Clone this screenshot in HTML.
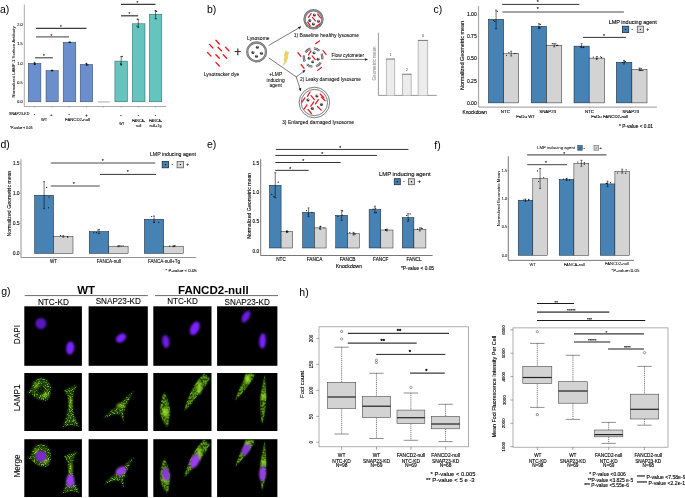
<!DOCTYPE html>
<html lang="en"><head><meta charset="utf-8"><title>Figure</title>
<style>
html,body{margin:0;padding:0;background:#fff;}
body{width:685px;height:498px;overflow:hidden;}
svg{display:block;font-family:"Liberation Sans",sans-serif;}
</style></head><body>
<svg width="685" height="498" viewBox="0 0 685 498">
<defs>
<filter id="b1" x="-30%" y="-30%" width="160%" height="160%"><feGaussianBlur stdDeviation="0.9"/></filter>
<filter id="b2" x="-30%" y="-30%" width="160%" height="160%"><feGaussianBlur stdDeviation="1.3"/></filter>
<filter id="sp" x="-20%" y="-20%" width="140%" height="140%">
<feGaussianBlur in="SourceGraphic" stdDeviation="0.7" result="g"/>
<feTurbulence type="fractalNoise" baseFrequency="0.8" numOctaves="2" seed="7" result="n"/>
<feColorMatrix in="n" type="matrix" values="0 0 0 0 1  0 0 0 0 1  0 0 0 0 1  5.5 0 0 0 -2.75" result="m"/>
<feComposite in="g" in2="m" operator="in"/>
</filter>
<filter id="sm" x="-20%" y="-20%" width="140%" height="140%">
<feGaussianBlur in="SourceGraphic" stdDeviation="0.6" result="g"/>
<feTurbulence type="fractalNoise" baseFrequency="0.5" numOctaves="2" seed="11" result="n"/>
<feColorMatrix in="n" type="matrix" values="0 0 0 0 1  0 0 0 0 1  0 0 0 0 1  3.0 0 0 0 -0.95" result="m"/>
<feComposite in="g" in2="m" operator="in"/>
</filter>
<marker id="ah" markerWidth="6" markerHeight="6" refX="4.5" refY="3" orient="auto"><path d="M0,0.8 L5,3 L0,5.2 Z" fill="#222"/></marker>
</defs>
<rect width="685" height="498" fill="#fff"/>

<text x="0.00" y="12.60" font-size="10.5">a)</text>
<text x="207.00" y="12.60" font-size="10.5">b)</text>
<text x="433.50" y="12.60" font-size="10.5">c)</text>
<text x="0.50" y="147.80" font-size="10.5">d)</text>
<text x="207.00" y="148.20" font-size="10.5">e)</text>
<text x="434.30" y="148.60" font-size="10.5">f)</text>
<text x="1.20" y="295.30" font-size="10.5">g)</text>
<text x="299.30" y="295.60" font-size="10.5">h)</text>
<g id="pa">
<line x1="24.30" y1="4.50" x2="24.30" y2="106.50" stroke="#555" stroke-width="0.5" />
<line x1="24.30" y1="106.50" x2="166.00" y2="106.50" stroke="#555" stroke-width="0.5" />
<text x="22.60" y="103.20" font-size="3.8" text-anchor="end" stroke="#000" stroke-width="0.08">0.0</text>
<text x="22.60" y="83.85" font-size="3.8" text-anchor="end" stroke="#000" stroke-width="0.08">0.5</text>
<text x="22.60" y="64.50" font-size="3.8" text-anchor="end" stroke="#000" stroke-width="0.08">1.0</text>
<text x="22.60" y="45.15" font-size="3.8" text-anchor="end" stroke="#000" stroke-width="0.08">1.5</text>
<text x="22.60" y="25.80" font-size="3.8" text-anchor="end" stroke="#000" stroke-width="0.08">2.0</text>
<text x="15.20" y="61.90" font-size="4.23" text-anchor="middle" textLength="71.0" lengthAdjust="spacingAndGlyphs" transform="rotate(-90 15.20 61.90)" stroke="#000" stroke-width="0.06">Normalized LAMP-1 Surface Antibody</text>
<rect x="28.30" y="63.30" width="12.60" height="38.50" fill="#6B8FCD" stroke="#34425c" stroke-width="0.5"/>
<rect x="46.00" y="70.60" width="12.20" height="31.20" fill="#6B8FCD" stroke="#34425c" stroke-width="0.5"/>
<rect x="63.20" y="42.20" width="12.60" height="59.60" fill="#6B8FCD" stroke="#34425c" stroke-width="0.5"/>
<rect x="80.20" y="64.40" width="12.50" height="37.40" fill="#6B8FCD" stroke="#34425c" stroke-width="0.5"/>
<rect x="114.90" y="61.10" width="12.60" height="40.70" fill="#66C4BF" stroke="#2a5e5b" stroke-width="0.5"/>
<rect x="132.20" y="23.80" width="12.80" height="78.00" fill="#66C4BF" stroke="#2a5e5b" stroke-width="0.5"/>
<rect x="149.40" y="14.20" width="12.40" height="87.60" fill="#66C4BF" stroke="#2a5e5b" stroke-width="0.5"/>
<rect x="98.00" y="101.00" width="11.80" height="1.80" fill="#d0d0d0" stroke="none" stroke-width="0"/>
<line x1="34.60" y1="62.30" x2="34.60" y2="64.60" stroke="#000" stroke-width="0.55" />
<line x1="33.70" y1="62.30" x2="35.50" y2="62.30" stroke="#000" stroke-width="0.55" />
<line x1="33.70" y1="64.60" x2="35.50" y2="64.60" stroke="#000" stroke-width="0.55" />
<circle cx="34.20" cy="63.00" r="0.6" fill="#000"/>
<circle cx="35.20" cy="63.80" r="0.6" fill="#000"/>
<circle cx="34.60" cy="64.40" r="0.6" fill="#000"/>
<line x1="52.10" y1="70.10" x2="52.10" y2="71.00" stroke="#000" stroke-width="0.55" />
<line x1="51.20" y1="70.10" x2="53.00" y2="70.10" stroke="#000" stroke-width="0.55" />
<line x1="51.20" y1="71.00" x2="53.00" y2="71.00" stroke="#000" stroke-width="0.55" />
<circle cx="51.20" cy="70.50" r="0.6" fill="#000"/>
<circle cx="52.80" cy="70.60" r="0.6" fill="#000"/>
<line x1="69.50" y1="41.90" x2="69.50" y2="42.60" stroke="#000" stroke-width="0.55" />
<line x1="68.60" y1="41.90" x2="70.40" y2="41.90" stroke="#000" stroke-width="0.55" />
<line x1="68.60" y1="42.60" x2="70.40" y2="42.60" stroke="#000" stroke-width="0.55" />
<circle cx="69.60" cy="42.30" r="0.6" fill="#000"/>
<circle cx="70.30" cy="42.40" r="0.6" fill="#000"/>
<line x1="86.50" y1="63.30" x2="86.50" y2="65.40" stroke="#000" stroke-width="0.55" />
<line x1="85.60" y1="63.30" x2="87.40" y2="63.30" stroke="#000" stroke-width="0.55" />
<line x1="85.60" y1="65.40" x2="87.40" y2="65.40" stroke="#000" stroke-width="0.55" />
<circle cx="86.20" cy="63.30" r="0.6" fill="#000"/>
<circle cx="87.00" cy="64.60" r="0.6" fill="#000"/>
<circle cx="88.00" cy="65.00" r="0.6" fill="#000"/>
<line x1="121.20" y1="56.50" x2="121.20" y2="65.00" stroke="#000" stroke-width="0.55" />
<line x1="120.30" y1="56.50" x2="122.10" y2="56.50" stroke="#000" stroke-width="0.55" />
<line x1="120.30" y1="65.00" x2="122.10" y2="65.00" stroke="#000" stroke-width="0.55" />
<circle cx="122.30" cy="56.30" r="0.6" fill="#000"/>
<circle cx="120.50" cy="63.80" r="0.6" fill="#000"/>
<circle cx="121.20" cy="64.60" r="0.6" fill="#000"/>
<line x1="138.30" y1="19.30" x2="138.30" y2="27.30" stroke="#000" stroke-width="0.55" />
<line x1="137.40" y1="19.30" x2="139.20" y2="19.30" stroke="#000" stroke-width="0.55" />
<line x1="137.40" y1="27.30" x2="139.20" y2="27.30" stroke="#000" stroke-width="0.55" />
<circle cx="137.30" cy="19.20" r="0.6" fill="#000"/>
<circle cx="137.00" cy="26.00" r="0.6" fill="#000"/>
<circle cx="138.20" cy="27.00" r="0.6" fill="#000"/>
<line x1="155.60" y1="10.60" x2="155.60" y2="18.60" stroke="#000" stroke-width="0.55" />
<line x1="154.70" y1="10.60" x2="156.50" y2="10.60" stroke="#000" stroke-width="0.55" />
<line x1="154.70" y1="18.60" x2="156.50" y2="18.60" stroke="#000" stroke-width="0.55" />
<circle cx="156.60" cy="11.30" r="0.6" fill="#000"/>
<circle cx="155.30" cy="10.80" r="0.6" fill="#000"/>
<circle cx="156.00" cy="18.80" r="0.6" fill="#000"/>
<line x1="35.00" y1="57.75" x2="52.90" y2="57.75" stroke="#666" stroke-width="1.35" />
<text x="43.80" y="58.35" font-size="4.5" text-anchor="middle" stroke="#000" stroke-width="0.08">*</text>
<line x1="36.00" y1="36.90" x2="69.00" y2="36.90" stroke="#666" stroke-width="1.35" />
<text x="51.50" y="37.50" font-size="4.5" text-anchor="middle" stroke="#000" stroke-width="0.08">*</text>
<line x1="36.00" y1="28.30" x2="86.50" y2="28.30" stroke="#3c3c3c" stroke-width="1.2" />
<text x="60.90" y="28.90" font-size="4.5" text-anchor="middle" stroke="#000" stroke-width="0.08">*</text>
<line x1="121.00" y1="15.80" x2="138.20" y2="15.80" stroke="#3c3c3c" stroke-width="1.25" />
<text x="129.30" y="16.40" font-size="4.5" text-anchor="middle" stroke="#000" stroke-width="0.08">*</text>
<line x1="121.00" y1="4.40" x2="155.50" y2="4.40" stroke="#3c3c3c" stroke-width="1.25" />
<text x="137.30" y="5.00" font-size="4.5" text-anchor="middle" stroke="#000" stroke-width="0.08">*</text>
<line x1="34.50" y1="106.50" x2="34.50" y2="107.60" stroke="#555" stroke-width="0.4" />
<line x1="51.80" y1="106.50" x2="51.80" y2="107.60" stroke="#555" stroke-width="0.4" />
<line x1="69.30" y1="106.50" x2="69.30" y2="107.60" stroke="#555" stroke-width="0.4" />
<line x1="86.50" y1="106.50" x2="86.50" y2="107.60" stroke="#555" stroke-width="0.4" />
<line x1="103.50" y1="106.50" x2="103.50" y2="107.60" stroke="#555" stroke-width="0.4" />
<line x1="121.00" y1="106.50" x2="121.00" y2="107.60" stroke="#555" stroke-width="0.4" />
<line x1="138.50" y1="106.50" x2="138.50" y2="107.60" stroke="#555" stroke-width="0.4" />
<line x1="155.50" y1="106.50" x2="155.50" y2="107.60" stroke="#555" stroke-width="0.4" />
<text x="9.00" y="115.20" font-size="3.69" textLength="20.5" lengthAdjust="spacingAndGlyphs" stroke="#000" stroke-width="0.08">SNAP23-KD</text>
<text x="34.50" y="115.30" font-size="4" text-anchor="middle" stroke="#000" stroke-width="0.08">-</text>
<text x="51.50" y="115.60" font-size="4" text-anchor="middle" stroke="#000" stroke-width="0.08">+</text>
<text x="69.20" y="115.30" font-size="4" text-anchor="middle" stroke="#000" stroke-width="0.08">-</text>
<text x="86.50" y="116.60" font-size="4.5" text-anchor="middle" stroke="#000" stroke-width="0.08">+</text>
<text x="44.20" y="121.30" font-size="4.0" text-anchor="middle" stroke="#000" stroke-width="0.08">WT</text>
<text x="77.50" y="121.30" font-size="4.0" text-anchor="middle" textLength="25.0" lengthAdjust="spacingAndGlyphs" stroke="#000" stroke-width="0.08">FANCD2-null</text>
<text x="121.00" y="116.20" font-size="4" text-anchor="middle" stroke="#000" stroke-width="0.08">-</text>
<text x="138.50" y="116.20" font-size="4" text-anchor="middle" stroke="#000" stroke-width="0.08">-</text>
<text x="155.50" y="116.20" font-size="4" text-anchor="middle" stroke="#000" stroke-width="0.08">-</text>
<text x="122.00" y="125.20" font-size="3.4" text-anchor="middle" stroke="#000" stroke-width="0.08">WT</text>
<text x="138.50" y="122.00" font-size="3.4" text-anchor="middle" textLength="13.0" lengthAdjust="spacingAndGlyphs" stroke="#000" stroke-width="0.08">FANCA-</text>
<text x="138.50" y="126.80" font-size="3.4" text-anchor="middle" stroke="#000" stroke-width="0.08">null</text>
<text x="155.50" y="122.00" font-size="3.4" text-anchor="middle" textLength="13.0" lengthAdjust="spacingAndGlyphs" stroke="#000" stroke-width="0.08">FANCA-</text>
<text x="155.50" y="126.80" font-size="3.4" text-anchor="middle" textLength="12.0" lengthAdjust="spacingAndGlyphs" stroke="#000" stroke-width="0.08">null+Tg</text>
<text x="10.00" y="129.30" font-size="3.3" textLength="22.5" lengthAdjust="spacingAndGlyphs" stroke="#000" stroke-width="0.08">*P-value &lt; 0.05</text>
</g>
<g id="pb">
<line x1="215.90" y1="40.27" x2="219.30" y2="43.93" stroke="#F01822" stroke-width="1.35" stroke-linecap="round"/>
<line x1="209.50" y1="44.37" x2="212.90" y2="48.03" stroke="#F01822" stroke-width="1.35" stroke-linecap="round"/>
<line x1="218.00" y1="47.17" x2="221.40" y2="50.83" stroke="#F01822" stroke-width="1.35" stroke-linecap="round"/>
<line x1="225.50" y1="47.17" x2="228.90" y2="50.83" stroke="#F01822" stroke-width="1.35" stroke-linecap="round"/>
<line x1="207.60" y1="52.47" x2="211.00" y2="56.13" stroke="#F01822" stroke-width="1.35" stroke-linecap="round"/>
<line x1="215.90" y1="54.67" x2="219.30" y2="58.33" stroke="#F01822" stroke-width="1.35" stroke-linecap="round"/>
<line x1="223.30" y1="54.67" x2="226.70" y2="58.33" stroke="#F01822" stroke-width="1.35" stroke-linecap="round"/>
<line x1="215.90" y1="62.37" x2="219.30" y2="66.03" stroke="#F01822" stroke-width="1.35" stroke-linecap="round"/>
<text x="221.50" y="75.90" font-size="5.06" text-anchor="middle" textLength="35.5" lengthAdjust="spacingAndGlyphs" stroke="#000" stroke-width="0.05">Lysotracker dye</text>
<text x="237.70" y="55.90" font-size="12.0" text-anchor="middle" fill="#333" stroke="#333" stroke-width="0.25">+</text>
<circle cx="256.6" cy="51.9" r="9.4" fill="#fff" stroke="#707070" stroke-width="2.3"/>
<circle cx="256.6" cy="51.9" r="9.4" fill="none" stroke="#a8a8a8" stroke-width="0.7"/>
<circle cx="257.40" cy="47.20" r="1.55" fill="#3a3a3a"/>
<circle cx="257.75" cy="46.65" r="0.59" fill="#e8e8e8"/>
<circle cx="252.90" cy="52.50" r="1.55" fill="#3a3a3a"/>
<circle cx="253.25" cy="51.95" r="0.59" fill="#e8e8e8"/>
<circle cx="261.50" cy="53.20" r="1.55" fill="#3a3a3a"/>
<circle cx="261.85" cy="52.65" r="0.59" fill="#e8e8e8"/>
<circle cx="256.50" cy="56.20" r="1.55" fill="#3a3a3a"/>
<circle cx="256.85" cy="55.65" r="0.59" fill="#e8e8e8"/>
<text x="258.30" y="40.10" font-size="4.98" text-anchor="middle" textLength="22.5" lengthAdjust="spacingAndGlyphs" stroke="#000" stroke-width="0.05">Lysosome</text>
<path d="M268.7,45.4 L301,26.7" stroke="#333" stroke-width="0.65" fill="none" marker-end="url(#ah)"/>
<path d="M268.7,57.8 L296.2,76.9 L305.2,70.1" stroke="#333" stroke-width="0.65" fill="none" marker-end="url(#ah)"/>
<path d="M296.2,76.9 L300.8,91" stroke="#333" stroke-width="0.65" fill="none" marker-end="url(#ah)"/>
<path d="M285.4,51.2 L288.9,52.5 L287.3,56.6 L288.2,56.9 L286.4,60.6 L287.0,60.8 L283.3,65.6 L284.6,60.4 L283.9,60.2 L285.0,56.2 L284.2,55.9 Z" fill="#F4D24E" stroke="#a09468" stroke-width="0.2"/>
<text x="275.70" y="75.60" font-size="4.9" text-anchor="middle" stroke="#000" stroke-width="0.05">+LMP</text>
<text x="275.70" y="81.50" font-size="4.9" text-anchor="middle" stroke="#000" stroke-width="0.05">inducing</text>
<text x="275.70" y="87.20" font-size="4.9" text-anchor="middle" stroke="#000" stroke-width="0.05">agent</text>
<circle cx="313.5" cy="19.3" r="9.0" fill="#fff" stroke="#707070" stroke-width="2.4"/>
<circle cx="313.5" cy="19.3" r="9.0" fill="none" stroke="#a0a0a0" stroke-width="0.7"/>
<circle cx="314.30" cy="14.90" r="1.5" fill="#3a3a3a"/>
<circle cx="314.65" cy="14.35" r="0.57" fill="#e8e8e8"/>
<circle cx="309.80" cy="20.50" r="1.5" fill="#3a3a3a"/>
<circle cx="310.15" cy="19.95" r="0.57" fill="#e8e8e8"/>
<circle cx="318.50" cy="21.20" r="1.5" fill="#3a3a3a"/>
<circle cx="318.85" cy="20.65" r="0.57" fill="#e8e8e8"/>
<circle cx="313.40" cy="24.10" r="1.5" fill="#3a3a3a"/>
<circle cx="313.75" cy="23.55" r="0.57" fill="#e8e8e8"/>
<line x1="308.55" y1="17.33" x2="311.05" y2="13.47" stroke="#F01822" stroke-width="1.25" stroke-linecap="round"/>
<line x1="317.65" y1="14.21" x2="320.55" y2="17.79" stroke="#F01822" stroke-width="1.25" stroke-linecap="round"/>
<line x1="312.39" y1="17.46" x2="315.41" y2="20.94" stroke="#F01822" stroke-width="1.25" stroke-linecap="round"/>
<line x1="307.71" y1="22.09" x2="310.29" y2="25.91" stroke="#F01822" stroke-width="1.25" stroke-linecap="round"/>
<line x1="315.99" y1="26.59" x2="319.81" y2="24.01" stroke="#F01822" stroke-width="1.25" stroke-linecap="round"/>
<text x="326.40" y="37.20" font-size="5.02" text-anchor="middle" textLength="65.3" lengthAdjust="spacingAndGlyphs" stroke="#000" stroke-width="0.05">1) Baseline healthy lysosome</text>
<circle cx="313.1" cy="57.5" r="9.2" fill="none" stroke="#5a5a5a" stroke-width="2.3" stroke-dasharray="6.0 3.63" stroke-dashoffset="4.2"/>
<circle cx="313.1" cy="57.5" r="9.2" fill="none" stroke="#d8d8d8" stroke-width="0.7" stroke-dasharray="6.0 3.63" stroke-dashoffset="4.2"/>
<circle cx="314.00" cy="52.90" r="1.45" fill="#3a3a3a"/>
<circle cx="314.35" cy="52.35" r="0.55" fill="#e8e8e8"/>
<circle cx="309.10" cy="58.30" r="1.45" fill="#3a3a3a"/>
<circle cx="309.45" cy="57.75" r="0.55" fill="#e8e8e8"/>
<circle cx="318.10" cy="59.30" r="1.45" fill="#3a3a3a"/>
<circle cx="318.45" cy="58.75" r="0.55" fill="#e8e8e8"/>
<circle cx="312.70" cy="61.90" r="1.45" fill="#3a3a3a"/>
<circle cx="313.05" cy="61.35" r="0.55" fill="#e8e8e8"/>
<line x1="315.53" y1="43.68" x2="319.47" y2="40.92" stroke="#F01822" stroke-width="1.25" stroke-linecap="round"/>
<line x1="322.96" y1="50.66" x2="326.04" y2="54.34" stroke="#F01822" stroke-width="1.25" stroke-linecap="round"/>
<line x1="297.86" y1="52.76" x2="300.94" y2="56.44" stroke="#F01822" stroke-width="1.25" stroke-linecap="round"/>
<line x1="308.50" y1="54.98" x2="310.90" y2="50.82" stroke="#F01822" stroke-width="1.25" stroke-linecap="round"/>
<line x1="312.16" y1="55.86" x2="315.24" y2="59.54" stroke="#F01822" stroke-width="1.25" stroke-linecap="round"/>
<line x1="301.12" y1="64.51" x2="304.08" y2="68.29" stroke="#F01822" stroke-width="1.25" stroke-linecap="round"/>
<line x1="317.61" y1="70.38" x2="321.39" y2="67.42" stroke="#F01822" stroke-width="1.25" stroke-linecap="round"/>
<text x="330.50" y="81.00" font-size="4.85" text-anchor="middle" textLength="61.0" lengthAdjust="spacingAndGlyphs" stroke="#000" stroke-width="0.05">2) Leaky damaged lysosome</text>
<text x="347.80" y="56.90" font-size="4.85" text-anchor="middle" textLength="32.6" lengthAdjust="spacingAndGlyphs" stroke="#000" stroke-width="0.05">Flow cytometer</text>
<path d="M331,59.4 L367.5,59.4" stroke="#333" stroke-width="0.65" fill="none" marker-end="url(#ah)"/>
<circle cx="314.4" cy="102.5" r="15.3" fill="#fff" stroke="#444" stroke-width="0.7"/>
<circle cx="314.4" cy="102.5" r="13.200000000000001" fill="#fff" stroke="#444" stroke-width="0.7"/>
<circle cx="316.90" cy="95.90" r="1.5" fill="#3a3a3a"/>
<circle cx="317.25" cy="95.35" r="0.57" fill="#e8e8e8"/>
<circle cx="308.00" cy="100.10" r="1.5" fill="#3a3a3a"/>
<circle cx="308.35" cy="99.55" r="0.57" fill="#e8e8e8"/>
<circle cx="321.50" cy="104.40" r="1.5" fill="#3a3a3a"/>
<circle cx="321.85" cy="103.85" r="0.57" fill="#e8e8e8"/>
<circle cx="312.40" cy="108.60" r="1.5" fill="#3a3a3a"/>
<circle cx="312.75" cy="108.05" r="0.57" fill="#e8e8e8"/>
<line x1="307.32" y1="96.40" x2="310.08" y2="92.00" stroke="#F01822" stroke-width="1.25" stroke-linecap="round"/>
<line x1="311.03" y1="95.61" x2="314.37" y2="99.59" stroke="#F01822" stroke-width="1.25" stroke-linecap="round"/>
<line x1="320.16" y1="94.06" x2="323.84" y2="97.74" stroke="#F01822" stroke-width="1.25" stroke-linecap="round"/>
<line x1="321.36" y1="97.06" x2="325.04" y2="100.74" stroke="#F01822" stroke-width="1.25" stroke-linecap="round"/>
<line x1="301.91" y1="102.23" x2="304.89" y2="97.97" stroke="#F01822" stroke-width="1.25" stroke-linecap="round"/>
<line x1="310.81" y1="106.23" x2="313.79" y2="101.97" stroke="#F01822" stroke-width="1.25" stroke-linecap="round"/>
<line x1="315.41" y1="103.93" x2="318.39" y2="99.67" stroke="#F01822" stroke-width="1.25" stroke-linecap="round"/>
<line x1="304.01" y1="109.03" x2="306.99" y2="104.77" stroke="#F01822" stroke-width="1.25" stroke-linecap="round"/>
<line x1="317.56" y1="106.46" x2="321.24" y2="110.14" stroke="#F01822" stroke-width="1.25" stroke-linecap="round"/>
<line x1="308.03" y1="109.51" x2="311.37" y2="113.49" stroke="#F01822" stroke-width="1.25" stroke-linecap="round"/>
<text x="318.00" y="123.90" font-size="4.95" text-anchor="middle" textLength="72.0" lengthAdjust="spacingAndGlyphs" stroke="#000" stroke-width="0.05">3) Enlarged damaged lysosome</text>
<line x1="378.40" y1="32.70" x2="378.40" y2="95.40" stroke="#333" stroke-width="0.5" />
<line x1="378.40" y1="95.40" x2="436.80" y2="95.40" stroke="#333" stroke-width="0.5" />
<rect x="386.4" y="59.0" width="8.30" height="36.40" fill="#ececec"/>
<line x1="386.40" y1="59.00" x2="386.40" y2="95.40" stroke="#8a8a8a" stroke-width="0.55" />
<line x1="394.70" y1="59.00" x2="394.70" y2="95.40" stroke="#8a8a8a" stroke-width="0.55" />
<line x1="386.15" y1="59.00" x2="394.95" y2="59.00" stroke="#333" stroke-width="0.65" />
<text x="390.55" y="56.00" font-size="3.2" text-anchor="middle" fill="#444" stroke="#444" stroke-width="0.05">1</text>
<rect x="402.5" y="74.2" width="8.70" height="21.20" fill="#ececec"/>
<line x1="402.50" y1="74.20" x2="402.50" y2="95.40" stroke="#8a8a8a" stroke-width="0.55" />
<line x1="411.20" y1="74.20" x2="411.20" y2="95.40" stroke="#8a8a8a" stroke-width="0.55" />
<line x1="402.25" y1="74.20" x2="411.45" y2="74.20" stroke="#333" stroke-width="0.65" />
<text x="406.85" y="71.20" font-size="3.2" text-anchor="middle" fill="#444" stroke="#444" stroke-width="0.05">2</text>
<rect x="418.2" y="40.4" width="9.40" height="55.00" fill="#ececec"/>
<line x1="418.20" y1="40.40" x2="418.20" y2="95.40" stroke="#8a8a8a" stroke-width="0.55" />
<line x1="427.60" y1="40.40" x2="427.60" y2="95.40" stroke="#8a8a8a" stroke-width="0.55" />
<line x1="417.95" y1="40.40" x2="427.85" y2="40.40" stroke="#333" stroke-width="0.65" />
<text x="422.90" y="37.40" font-size="3.2" text-anchor="middle" fill="#444" stroke="#444" stroke-width="0.05">3</text>
<text x="376.20" y="63.40" font-size="4.6" text-anchor="middle" textLength="34.0" lengthAdjust="spacingAndGlyphs" transform="rotate(-90 376.20 63.40)" fill="#8a8a8a" stroke="#8a8a8a" stroke-width="0.05">Geometric mean</text>
</g>
<g id="pc">
<line x1="478.60" y1="6.10" x2="478.60" y2="107.10" stroke="#808080" stroke-width="0.8" />
<line x1="478.60" y1="107.10" x2="657.00" y2="107.10" stroke="#808080" stroke-width="0.8" />
<text x="476.70" y="104.65" font-size="5.0" text-anchor="end" stroke="#000" stroke-width="0.11">0.00</text>
<line x1="477.60" y1="102.90" x2="478.60" y2="102.90" stroke="#808080" stroke-width="0.4" />
<text x="476.70" y="82.55" font-size="5.0" text-anchor="end" stroke="#000" stroke-width="0.11">0.25</text>
<line x1="477.60" y1="80.80" x2="478.60" y2="80.80" stroke="#808080" stroke-width="0.4" />
<text x="476.70" y="60.45" font-size="5.0" text-anchor="end" stroke="#000" stroke-width="0.11">0.50</text>
<line x1="477.60" y1="58.70" x2="478.60" y2="58.70" stroke="#808080" stroke-width="0.4" />
<text x="476.70" y="38.35" font-size="5.0" text-anchor="end" stroke="#000" stroke-width="0.11">0.75</text>
<line x1="477.60" y1="36.60" x2="478.60" y2="36.60" stroke="#808080" stroke-width="0.4" />
<text x="476.70" y="16.25" font-size="5.0" text-anchor="end" stroke="#000" stroke-width="0.11">1.00</text>
<line x1="477.60" y1="14.50" x2="478.60" y2="14.50" stroke="#808080" stroke-width="0.4" />
<text x="464.50" y="55.40" font-size="5.42" text-anchor="middle" textLength="69.0" lengthAdjust="spacingAndGlyphs" transform="rotate(-90 464.50 55.40)" stroke="#000" stroke-width="0.11">Normalized Geometric mean</text>
<rect x="488.40" y="19.30" width="15.30" height="83.60" fill="#4682B4" stroke="#111" stroke-width="0.45"/>
<line x1="496.05" y1="10.10" x2="496.05" y2="28.80" stroke="#000" stroke-width="0.55" />
<line x1="495.05" y1="10.10" x2="497.05" y2="10.10" stroke="#000" stroke-width="0.55" />
<line x1="495.05" y1="28.80" x2="497.05" y2="28.80" stroke="#000" stroke-width="0.55" />
<circle cx="493.48" cy="20.28" r="0.58" fill="#000"/>
<circle cx="494.78" cy="21.39" r="0.58" fill="#000"/>
<circle cx="497.28" cy="11.33" r="0.58" fill="#000"/>
<rect x="503.70" y="53.60" width="14.90" height="49.30" fill="#D3D3D3" stroke="#111" stroke-width="0.45"/>
<line x1="511.15" y1="51.20" x2="511.15" y2="56.00" stroke="#000" stroke-width="0.55" />
<line x1="510.15" y1="51.20" x2="512.15" y2="51.20" stroke="#000" stroke-width="0.55" />
<line x1="510.15" y1="56.00" x2="512.15" y2="56.00" stroke="#000" stroke-width="0.55" />
<circle cx="506.51" cy="55.22" r="0.58" fill="#000"/>
<circle cx="508.86" cy="52.32" r="0.58" fill="#000"/>
<circle cx="515.88" cy="53.46" r="0.58" fill="#000"/>
<circle cx="514.36" cy="53.49" r="0.58" fill="#000"/>
<rect x="531.20" y="26.30" width="15.40" height="76.60" fill="#4682B4" stroke="#111" stroke-width="0.45"/>
<line x1="538.90" y1="23.70" x2="538.90" y2="28.70" stroke="#000" stroke-width="0.55" />
<line x1="537.90" y1="23.70" x2="539.90" y2="23.70" stroke="#000" stroke-width="0.55" />
<line x1="537.90" y1="28.70" x2="539.90" y2="28.70" stroke="#000" stroke-width="0.55" />
<circle cx="540.27" cy="24.45" r="0.58" fill="#000"/>
<circle cx="540.23" cy="28.04" r="0.58" fill="#000"/>
<circle cx="539.13" cy="27.41" r="0.58" fill="#000"/>
<rect x="546.60" y="45.20" width="15.20" height="57.70" fill="#D3D3D3" stroke="#111" stroke-width="0.45"/>
<line x1="554.20" y1="43.60" x2="554.20" y2="46.90" stroke="#000" stroke-width="0.55" />
<line x1="553.20" y1="43.60" x2="555.20" y2="43.60" stroke="#000" stroke-width="0.55" />
<line x1="553.20" y1="46.90" x2="555.20" y2="46.90" stroke="#000" stroke-width="0.55" />
<circle cx="555.87" cy="43.81" r="0.58" fill="#000"/>
<circle cx="556.71" cy="45.55" r="0.58" fill="#000"/>
<circle cx="552.27" cy="43.70" r="0.58" fill="#000"/>
<circle cx="557.76" cy="45.16" r="0.58" fill="#000"/>
<rect x="574.00" y="46.10" width="15.20" height="56.80" fill="#4682B4" stroke="#111" stroke-width="0.45"/>
<line x1="581.60" y1="43.70" x2="581.60" y2="47.60" stroke="#000" stroke-width="0.55" />
<line x1="580.60" y1="43.70" x2="582.60" y2="43.70" stroke="#000" stroke-width="0.55" />
<line x1="580.60" y1="47.60" x2="582.60" y2="47.60" stroke="#000" stroke-width="0.55" />
<circle cx="583.73" cy="47.13" r="0.58" fill="#000"/>
<circle cx="583.68" cy="47.29" r="0.58" fill="#000"/>
<circle cx="580.58" cy="46.82" r="0.58" fill="#000"/>
<rect x="589.20" y="58.10" width="15.50" height="44.80" fill="#D3D3D3" stroke="#111" stroke-width="0.45"/>
<line x1="596.95" y1="56.50" x2="596.95" y2="59.10" stroke="#000" stroke-width="0.55" />
<line x1="595.95" y1="56.50" x2="597.95" y2="56.50" stroke="#000" stroke-width="0.55" />
<line x1="595.95" y1="59.10" x2="597.95" y2="59.10" stroke="#000" stroke-width="0.55" />
<circle cx="596.40" cy="58.93" r="0.58" fill="#000"/>
<circle cx="600.71" cy="56.75" r="0.58" fill="#000"/>
<circle cx="593.34" cy="57.06" r="0.58" fill="#000"/>
<circle cx="601.57" cy="57.63" r="0.58" fill="#000"/>
<rect x="616.30" y="62.20" width="15.60" height="40.70" fill="#4682B4" stroke="#111" stroke-width="0.45"/>
<line x1="624.10" y1="60.40" x2="624.10" y2="64.00" stroke="#000" stroke-width="0.55" />
<line x1="623.10" y1="60.40" x2="625.10" y2="60.40" stroke="#000" stroke-width="0.55" />
<line x1="623.10" y1="64.00" x2="625.10" y2="64.00" stroke="#000" stroke-width="0.55" />
<circle cx="625.36" cy="61.48" r="0.58" fill="#000"/>
<circle cx="624.17" cy="61.79" r="0.58" fill="#000"/>
<circle cx="622.61" cy="62.51" r="0.58" fill="#000"/>
<rect x="631.90" y="69.30" width="15.10" height="33.60" fill="#D3D3D3" stroke="#111" stroke-width="0.45"/>
<line x1="639.45" y1="68.00" x2="639.45" y2="70.60" stroke="#000" stroke-width="0.55" />
<line x1="638.45" y1="68.00" x2="640.45" y2="68.00" stroke="#000" stroke-width="0.55" />
<line x1="638.45" y1="70.60" x2="640.45" y2="70.60" stroke="#000" stroke-width="0.55" />
<circle cx="640.26" cy="70.35" r="0.58" fill="#000"/>
<circle cx="641.21" cy="70.42" r="0.58" fill="#000"/>
<circle cx="642.89" cy="70.58" r="0.58" fill="#000"/>
<circle cx="641.11" cy="68.42" r="0.58" fill="#000"/>
<line x1="502.20" y1="4.40" x2="579.30" y2="4.40" stroke="#333" stroke-width="1.0" />
<text x="537.80" y="3.80" font-size="5" text-anchor="middle" stroke="#000" stroke-width="0.11">*</text>
<line x1="502.40" y1="11.90" x2="623.90" y2="11.90" stroke="#868686" stroke-width="1.5" />
<text x="537.80" y="11.30" font-size="5" text-anchor="middle" stroke="#000" stroke-width="0.11">*</text>
<line x1="582.90" y1="37.40" x2="625.80" y2="37.40" stroke="#333" stroke-width="1.0" />
<text x="604.00" y="37.60" font-size="5" text-anchor="middle" stroke="#000" stroke-width="0.11">*</text>
<text x="608.70" y="24.30" font-size="5.5" textLength="48.2" lengthAdjust="spacingAndGlyphs" stroke="#000" stroke-width="0.11">LMP inducing agent</text>
<rect x="622.40" y="26.20" width="6.30" height="6.30" fill="#4682B4" stroke="#1c2a3a" stroke-width="0.8"/>
<circle cx="625.55" cy="29.35" r="0.7" fill="#000"/>
<rect x="637.30" y="26.20" width="6.30" height="6.30" fill="#DADADA" stroke="#5a5a5a" stroke-width="0.8"/>
<circle cx="640.45" cy="29.35" r="0.7" fill="#000"/>
<text x="632.30" y="30.95" font-size="5" text-anchor="middle" stroke="#000" stroke-width="0.11">-</text>
<text x="647.80" y="31.05" font-size="5" text-anchor="middle" stroke="#000" stroke-width="0.11">+</text>
<line x1="505.30" y1="107.10" x2="505.30" y2="108.20" stroke="#808080" stroke-width="0.4" />
<line x1="547.70" y1="107.10" x2="547.70" y2="108.20" stroke="#808080" stroke-width="0.4" />
<line x1="589.40" y1="107.10" x2="589.40" y2="108.20" stroke="#808080" stroke-width="0.4" />
<line x1="630.70" y1="107.10" x2="630.70" y2="108.20" stroke="#808080" stroke-width="0.4" />
<text x="462.50" y="114.30" font-size="4.74" textLength="24.5" lengthAdjust="spacingAndGlyphs" stroke="#000" stroke-width="0.11">Knockdown</text>
<text x="505.30" y="112.70" font-size="4.4" text-anchor="middle" stroke="#000" stroke-width="0.11">NTC</text>
<text x="547.70" y="112.70" font-size="4.4" text-anchor="middle" stroke="#000" stroke-width="0.11">SNAP23</text>
<text x="589.40" y="112.70" font-size="4.4" text-anchor="middle" stroke="#000" stroke-width="0.11">NTC</text>
<text x="630.70" y="112.70" font-size="4.4" text-anchor="middle" stroke="#000" stroke-width="0.11">SNAP23</text>
<text x="525.60" y="117.60" font-size="4.4" text-anchor="middle" stroke="#000" stroke-width="0.11">FaDu WT</text>
<text x="609.70" y="117.60" font-size="4.2" text-anchor="middle" textLength="37.0" lengthAdjust="spacingAndGlyphs" stroke="#000" stroke-width="0.11">FaDu FANCD2-null</text>
<text x="619.00" y="128.30" font-size="4.76" textLength="34.0" lengthAdjust="spacingAndGlyphs" stroke="#000" stroke-width="0.11">* P-value &lt; 0.01</text>
</g>
<g id="pd">
<line x1="21.00" y1="159.30" x2="21.00" y2="257.50" stroke="#787878" stroke-width="0.8" />
<line x1="21.00" y1="257.50" x2="196.20" y2="257.50" stroke="#787878" stroke-width="0.8" />
<text x="19.60" y="255.15" font-size="5.0" text-anchor="end" stroke="#000" stroke-width="0.09">0.0</text>
<line x1="20.00" y1="253.40" x2="21.00" y2="253.40" stroke="#787878" stroke-width="0.4" />
<text x="19.60" y="225.15" font-size="5.0" text-anchor="end" stroke="#000" stroke-width="0.09">0.5</text>
<line x1="20.00" y1="223.40" x2="21.00" y2="223.40" stroke="#787878" stroke-width="0.4" />
<text x="19.60" y="195.15" font-size="5.0" text-anchor="end" stroke="#000" stroke-width="0.09">1.0</text>
<line x1="20.00" y1="193.40" x2="21.00" y2="193.40" stroke="#787878" stroke-width="0.4" />
<text x="19.60" y="165.15" font-size="5.0" text-anchor="end" stroke="#000" stroke-width="0.09">1.5</text>
<line x1="20.00" y1="163.40" x2="21.00" y2="163.40" stroke="#787878" stroke-width="0.4" />
<text x="10.80" y="203.50" font-size="5.19" text-anchor="middle" textLength="66.0" lengthAdjust="spacingAndGlyphs" transform="rotate(-90 10.80 203.50)" stroke="#000" stroke-width="0.09">Normalized Geometric mean</text>
<rect x="34.60" y="195.20" width="19.00" height="58.20" fill="#4682B4" stroke="#111" stroke-width="0.45"/>
<line x1="44.10" y1="181.70" x2="44.10" y2="208.70" stroke="#000" stroke-width="0.55" />
<line x1="43.10" y1="181.70" x2="45.10" y2="181.70" stroke="#000" stroke-width="0.55" />
<line x1="43.10" y1="208.70" x2="45.10" y2="208.70" stroke="#000" stroke-width="0.55" />
<circle cx="48.49" cy="207.75" r="0.58" fill="#000"/>
<circle cx="49.02" cy="197.07" r="0.58" fill="#000"/>
<circle cx="46.70" cy="187.40" r="0.58" fill="#000"/>
<rect x="53.60" y="236.40" width="19.40" height="17.00" fill="#D3D3D3" stroke="#111" stroke-width="0.45"/>
<line x1="63.30" y1="235.60" x2="63.30" y2="237.20" stroke="#000" stroke-width="0.55" />
<line x1="62.30" y1="235.60" x2="64.30" y2="235.60" stroke="#000" stroke-width="0.55" />
<line x1="62.30" y1="237.20" x2="64.30" y2="237.20" stroke="#000" stroke-width="0.55" />
<circle cx="67.42" cy="236.52" r="0.58" fill="#000"/>
<circle cx="60.63" cy="235.70" r="0.58" fill="#000"/>
<circle cx="67.69" cy="237.18" r="0.58" fill="#000"/>
<rect x="89.20" y="231.50" width="19.60" height="21.90" fill="#4682B4" stroke="#111" stroke-width="0.45"/>
<line x1="99.00" y1="229.30" x2="99.00" y2="233.70" stroke="#000" stroke-width="0.55" />
<line x1="98.00" y1="229.30" x2="100.00" y2="229.30" stroke="#000" stroke-width="0.55" />
<line x1="98.00" y1="233.70" x2="100.00" y2="233.70" stroke="#000" stroke-width="0.55" />
<circle cx="93.84" cy="232.82" r="0.58" fill="#000"/>
<circle cx="97.88" cy="229.96" r="0.58" fill="#000"/>
<circle cx="96.41" cy="232.68" r="0.58" fill="#000"/>
<rect x="108.80" y="246.20" width="19.30" height="7.20" fill="#D3D3D3" stroke="#111" stroke-width="0.45"/>
<line x1="118.45" y1="245.70" x2="118.45" y2="246.70" stroke="#000" stroke-width="0.55" />
<line x1="117.45" y1="245.70" x2="119.45" y2="245.70" stroke="#000" stroke-width="0.55" />
<line x1="117.45" y1="246.70" x2="119.45" y2="246.70" stroke="#000" stroke-width="0.55" />
<circle cx="123.05" cy="245.74" r="0.58" fill="#000"/>
<circle cx="119.86" cy="245.74" r="0.58" fill="#000"/>
<circle cx="121.15" cy="246.03" r="0.58" fill="#000"/>
<rect x="144.40" y="219.20" width="19.30" height="34.20" fill="#4682B4" stroke="#111" stroke-width="0.45"/>
<line x1="154.05" y1="216.00" x2="154.05" y2="222.40" stroke="#000" stroke-width="0.55" />
<line x1="153.05" y1="216.00" x2="155.05" y2="216.00" stroke="#000" stroke-width="0.55" />
<line x1="153.05" y1="222.40" x2="155.05" y2="222.40" stroke="#000" stroke-width="0.55" />
<circle cx="158.75" cy="222.28" r="0.58" fill="#000"/>
<circle cx="154.12" cy="222.39" r="0.58" fill="#000"/>
<circle cx="151.70" cy="216.49" r="0.58" fill="#000"/>
<rect x="163.70" y="246.20" width="19.60" height="7.20" fill="#D3D3D3" stroke="#111" stroke-width="0.45"/>
<line x1="173.50" y1="245.70" x2="173.50" y2="246.70" stroke="#000" stroke-width="0.55" />
<line x1="172.50" y1="245.70" x2="174.50" y2="245.70" stroke="#000" stroke-width="0.55" />
<line x1="172.50" y1="246.70" x2="174.50" y2="246.70" stroke="#000" stroke-width="0.55" />
<circle cx="174.75" cy="245.73" r="0.58" fill="#000"/>
<circle cx="169.70" cy="246.11" r="0.58" fill="#000"/>
<circle cx="174.89" cy="245.86" r="0.58" fill="#000"/>
<line x1="50.80" y1="163.00" x2="155.20" y2="163.00" stroke="#868686" stroke-width="1.5" />
<text x="102.80" y="162.90" font-size="5" text-anchor="middle" stroke="#000" stroke-width="0.09">*</text>
<line x1="50.80" y1="186.00" x2="99.80" y2="186.00" stroke="#868686" stroke-width="1.5" />
<text x="73.70" y="185.90" font-size="5" text-anchor="middle" stroke="#000" stroke-width="0.09">*</text>
<line x1="100.00" y1="174.40" x2="156.00" y2="174.40" stroke="#333" stroke-width="1.0" />
<text x="127.70" y="174.40" font-size="5" text-anchor="middle" stroke="#000" stroke-width="0.09">*</text>
<text x="149.90" y="156.00" font-size="5.3" textLength="46.1" lengthAdjust="spacingAndGlyphs" stroke="#000" stroke-width="0.09">LMP inducing agent</text>
<rect x="162.20" y="161.40" width="6.40" height="6.40" fill="#4682B4" stroke="#1c2a3a" stroke-width="0.8"/>
<circle cx="165.40" cy="164.60" r="0.7" fill="#000"/>
<rect x="177.10" y="161.40" width="6.40" height="6.40" fill="#DADADA" stroke="#5a5a5a" stroke-width="0.8"/>
<circle cx="180.30" cy="164.60" r="0.7" fill="#000"/>
<text x="172.30" y="166.20" font-size="5" text-anchor="middle" stroke="#000" stroke-width="0.09">-</text>
<text x="187.60" y="166.30" font-size="5" text-anchor="middle" stroke="#000" stroke-width="0.09">+</text>
<line x1="53.60" y1="257.50" x2="53.60" y2="258.60" stroke="#787878" stroke-width="0.4" />
<line x1="108.80" y1="257.50" x2="108.80" y2="258.60" stroke="#787878" stroke-width="0.4" />
<line x1="164.00" y1="257.50" x2="164.00" y2="258.60" stroke="#787878" stroke-width="0.4" />
<text x="53.60" y="262.90" font-size="4.6" text-anchor="middle" stroke="#000" stroke-width="0.09">WT</text>
<text x="108.80" y="262.90" font-size="4.6" text-anchor="middle" stroke="#000" stroke-width="0.09">FANCA-null</text>
<text x="164.00" y="262.90" font-size="4.6" text-anchor="middle" stroke="#000" stroke-width="0.09">FANCA-null+Tg</text>
<text x="165.60" y="271.60" font-size="4.37" textLength="31.2" lengthAdjust="spacingAndGlyphs" stroke="#000" stroke-width="0.09">* P-value &lt; 0.05</text>
</g>
<g id="pe">
<line x1="260.70" y1="159.30" x2="260.70" y2="255.50" stroke="#555" stroke-width="0.8" />
<line x1="260.70" y1="255.50" x2="432.60" y2="255.50" stroke="#555" stroke-width="0.8" />
<text x="259.10" y="252.55" font-size="4.7" text-anchor="end" stroke="#000" stroke-width="0.11">0.0</text>
<line x1="259.70" y1="250.90" x2="260.70" y2="250.90" stroke="#555" stroke-width="0.4" />
<text x="259.10" y="223.25" font-size="4.7" text-anchor="end" stroke="#000" stroke-width="0.11">0.5</text>
<line x1="259.70" y1="221.60" x2="260.70" y2="221.60" stroke="#555" stroke-width="0.4" />
<text x="259.10" y="193.95" font-size="4.7" text-anchor="end" stroke="#000" stroke-width="0.11">1.0</text>
<line x1="259.70" y1="192.30" x2="260.70" y2="192.30" stroke="#555" stroke-width="0.4" />
<text x="259.10" y="164.65" font-size="4.7" text-anchor="end" stroke="#000" stroke-width="0.11">1.5</text>
<line x1="259.70" y1="163.00" x2="260.70" y2="163.00" stroke="#555" stroke-width="0.4" />
<text x="250.80" y="205.80" font-size="5.19" text-anchor="middle" textLength="66.0" lengthAdjust="spacingAndGlyphs" transform="rotate(-90 250.80 205.80)" stroke="#000" stroke-width="0.11">Normalized Geometric mean</text>
<rect x="269.40" y="185.20" width="11.70" height="62.80" fill="#4682B4" stroke="#111" stroke-width="0.45"/>
<line x1="275.25" y1="172.70" x2="275.25" y2="197.70" stroke="#000" stroke-width="0.55" />
<line x1="274.25" y1="172.70" x2="276.25" y2="172.70" stroke="#000" stroke-width="0.55" />
<line x1="274.25" y1="197.70" x2="276.25" y2="197.70" stroke="#000" stroke-width="0.55" />
<circle cx="271.82" cy="194.39" r="0.58" fill="#000"/>
<circle cx="273.86" cy="196.67" r="0.58" fill="#000"/>
<circle cx="278.22" cy="182.14" r="0.58" fill="#000"/>
<rect x="281.10" y="231.60" width="11.60" height="16.40" fill="#D3D3D3" stroke="#111" stroke-width="0.45"/>
<line x1="286.90" y1="230.80" x2="286.90" y2="232.40" stroke="#000" stroke-width="0.55" />
<line x1="285.90" y1="230.80" x2="287.90" y2="230.80" stroke="#000" stroke-width="0.55" />
<line x1="285.90" y1="232.40" x2="287.90" y2="232.40" stroke="#000" stroke-width="0.55" />
<circle cx="286.61" cy="231.63" r="0.58" fill="#000"/>
<circle cx="287.97" cy="231.75" r="0.58" fill="#000"/>
<circle cx="287.34" cy="231.79" r="0.58" fill="#000"/>
<rect x="302.60" y="212.30" width="11.90" height="35.70" fill="#4682B4" stroke="#111" stroke-width="0.45"/>
<line x1="308.55" y1="207.90" x2="308.55" y2="216.70" stroke="#000" stroke-width="0.55" />
<line x1="307.55" y1="207.90" x2="309.55" y2="207.90" stroke="#000" stroke-width="0.55" />
<line x1="307.55" y1="216.70" x2="309.55" y2="216.70" stroke="#000" stroke-width="0.55" />
<circle cx="311.91" cy="212.36" r="0.58" fill="#000"/>
<circle cx="308.03" cy="214.24" r="0.58" fill="#000"/>
<circle cx="306.55" cy="210.55" r="0.58" fill="#000"/>
<rect x="314.50" y="227.90" width="11.60" height="20.10" fill="#D3D3D3" stroke="#111" stroke-width="0.45"/>
<line x1="320.30" y1="226.40" x2="320.30" y2="229.40" stroke="#000" stroke-width="0.55" />
<line x1="319.30" y1="226.40" x2="321.30" y2="226.40" stroke="#000" stroke-width="0.55" />
<line x1="319.30" y1="229.40" x2="321.30" y2="229.40" stroke="#000" stroke-width="0.55" />
<circle cx="323.85" cy="227.96" r="0.58" fill="#000"/>
<circle cx="320.66" cy="226.43" r="0.58" fill="#000"/>
<circle cx="319.67" cy="228.14" r="0.58" fill="#000"/>
<rect x="335.70" y="215.30" width="11.90" height="32.70" fill="#4682B4" stroke="#111" stroke-width="0.45"/>
<line x1="341.65" y1="210.30" x2="341.65" y2="220.30" stroke="#000" stroke-width="0.55" />
<line x1="340.65" y1="210.30" x2="342.65" y2="210.30" stroke="#000" stroke-width="0.55" />
<line x1="340.65" y1="220.30" x2="342.65" y2="220.30" stroke="#000" stroke-width="0.55" />
<circle cx="337.99" cy="216.46" r="0.58" fill="#000"/>
<circle cx="342.66" cy="210.90" r="0.58" fill="#000"/>
<circle cx="342.62" cy="214.96" r="0.58" fill="#000"/>
<rect x="347.60" y="233.70" width="11.70" height="14.30" fill="#D3D3D3" stroke="#111" stroke-width="0.45"/>
<line x1="353.45" y1="232.40" x2="353.45" y2="235.00" stroke="#000" stroke-width="0.55" />
<line x1="352.45" y1="232.40" x2="354.45" y2="232.40" stroke="#000" stroke-width="0.55" />
<line x1="352.45" y1="235.00" x2="354.45" y2="235.00" stroke="#000" stroke-width="0.55" />
<circle cx="354.79" cy="233.32" r="0.58" fill="#000"/>
<circle cx="355.00" cy="234.32" r="0.58" fill="#000"/>
<circle cx="349.87" cy="232.56" r="0.58" fill="#000"/>
<rect x="369.10" y="209.50" width="11.70" height="38.50" fill="#4682B4" stroke="#111" stroke-width="0.45"/>
<line x1="374.95" y1="206.10" x2="374.95" y2="212.90" stroke="#000" stroke-width="0.55" />
<line x1="373.95" y1="206.10" x2="375.95" y2="206.10" stroke="#000" stroke-width="0.55" />
<line x1="373.95" y1="212.90" x2="375.95" y2="212.90" stroke="#000" stroke-width="0.55" />
<circle cx="376.27" cy="212.65" r="0.58" fill="#000"/>
<circle cx="373.09" cy="209.20" r="0.58" fill="#000"/>
<circle cx="375.64" cy="208.28" r="0.58" fill="#000"/>
<rect x="380.80" y="230.00" width="12.20" height="18.00" fill="#D3D3D3" stroke="#111" stroke-width="0.45"/>
<line x1="386.90" y1="229.10" x2="386.90" y2="230.90" stroke="#000" stroke-width="0.55" />
<line x1="385.90" y1="229.10" x2="387.90" y2="229.10" stroke="#000" stroke-width="0.55" />
<line x1="385.90" y1="230.90" x2="387.90" y2="230.90" stroke="#000" stroke-width="0.55" />
<circle cx="385.84" cy="229.66" r="0.58" fill="#000"/>
<circle cx="385.88" cy="230.17" r="0.58" fill="#000"/>
<circle cx="385.34" cy="229.78" r="0.58" fill="#000"/>
<rect x="402.30" y="217.50" width="11.60" height="30.50" fill="#4682B4" stroke="#111" stroke-width="0.45"/>
<line x1="408.10" y1="213.70" x2="408.10" y2="221.30" stroke="#000" stroke-width="0.55" />
<line x1="407.10" y1="213.70" x2="409.10" y2="213.70" stroke="#000" stroke-width="0.55" />
<line x1="407.10" y1="221.30" x2="409.10" y2="221.30" stroke="#000" stroke-width="0.55" />
<circle cx="410.12" cy="213.90" r="0.58" fill="#000"/>
<circle cx="408.61" cy="219.29" r="0.58" fill="#000"/>
<circle cx="406.69" cy="215.39" r="0.58" fill="#000"/>
<rect x="413.90" y="229.40" width="12.00" height="18.60" fill="#D3D3D3" stroke="#111" stroke-width="0.45"/>
<line x1="419.90" y1="227.80" x2="419.90" y2="231.00" stroke="#000" stroke-width="0.55" />
<line x1="418.90" y1="227.80" x2="420.90" y2="227.80" stroke="#000" stroke-width="0.55" />
<line x1="418.90" y1="231.00" x2="420.90" y2="231.00" stroke="#000" stroke-width="0.55" />
<circle cx="422.23" cy="228.56" r="0.58" fill="#000"/>
<circle cx="417.50" cy="229.19" r="0.58" fill="#000"/>
<circle cx="421.42" cy="228.13" r="0.58" fill="#000"/>
<line x1="275.80" y1="149.45" x2="408.40" y2="149.45" stroke="#333" stroke-width="1.0" />
<text x="340.20" y="150.10" font-size="5" text-anchor="middle" stroke="#000" stroke-width="0.11">*</text>
<line x1="275.30" y1="155.45" x2="377.00" y2="155.45" stroke="#333" stroke-width="1.0" />
<text x="322.20" y="156.40" font-size="5" text-anchor="middle" stroke="#000" stroke-width="0.11">*</text>
<line x1="275.30" y1="162.50" x2="340.60" y2="162.50" stroke="#333" stroke-width="1.0" />
<text x="303.30" y="162.80" font-size="5" text-anchor="middle" stroke="#000" stroke-width="0.11">*</text>
<line x1="275.30" y1="170.35" x2="308.70" y2="170.35" stroke="#333" stroke-width="1.0" />
<text x="290.30" y="170.60" font-size="5" text-anchor="middle" stroke="#000" stroke-width="0.11">*</text>
<text x="379.00" y="176.20" font-size="5.9" textLength="51.7" lengthAdjust="spacingAndGlyphs" stroke="#000" stroke-width="0.11">LMP inducing agent</text>
<rect x="394.30" y="178.70" width="6.00" height="6.00" fill="#4682B4" stroke="#1c2a3a" stroke-width="0.8"/>
<circle cx="397.30" cy="181.70" r="0.7" fill="#000"/>
<rect x="408.50" y="178.70" width="6.00" height="6.00" fill="#DADADA" stroke="#5a5a5a" stroke-width="0.8"/>
<circle cx="411.50" cy="181.70" r="0.7" fill="#000"/>
<text x="403.80" y="183.30" font-size="6" text-anchor="middle" stroke="#000" stroke-width="0.11">-</text>
<text x="419.20" y="183.40" font-size="6" text-anchor="middle" stroke="#000" stroke-width="0.11">+</text>
<line x1="281.00" y1="255.50" x2="281.00" y2="256.60" stroke="#555" stroke-width="0.4" />
<line x1="314.50" y1="255.50" x2="314.50" y2="256.60" stroke="#555" stroke-width="0.4" />
<line x1="347.60" y1="255.50" x2="347.60" y2="256.60" stroke="#555" stroke-width="0.4" />
<line x1="380.80" y1="255.50" x2="380.80" y2="256.60" stroke="#555" stroke-width="0.4" />
<line x1="414.00" y1="255.50" x2="414.00" y2="256.60" stroke="#555" stroke-width="0.4" />
<text x="281.00" y="260.60" font-size="4.7" text-anchor="middle" stroke="#000" stroke-width="0.11">NTC</text>
<text x="314.50" y="260.60" font-size="4.7" text-anchor="middle" stroke="#000" stroke-width="0.11">FANCA</text>
<text x="347.60" y="260.60" font-size="4.7" text-anchor="middle" stroke="#000" stroke-width="0.11">FANCB</text>
<text x="380.80" y="260.60" font-size="4.7" text-anchor="middle" stroke="#000" stroke-width="0.11">FANCF</text>
<text x="414.00" y="260.60" font-size="4.7" text-anchor="middle" stroke="#000" stroke-width="0.11">FANCL</text>
<text x="348.90" y="267.80" font-size="5.0" text-anchor="middle" textLength="26.5" lengthAdjust="spacingAndGlyphs" stroke="#000" stroke-width="0.11">Knockdown</text>
<text x="401.00" y="270.00" font-size="4.81" textLength="33.0" lengthAdjust="spacingAndGlyphs" stroke="#000" stroke-width="0.11">*P-value &lt; 0.05</text>
</g>
<g id="pf">
<line x1="508.30" y1="156.30" x2="508.30" y2="260.40" stroke="#555" stroke-width="0.8" />
<line x1="508.30" y1="260.40" x2="634.00" y2="260.40" stroke="#555" stroke-width="0.8" />
<text x="507.00" y="256.65" font-size="3.7" text-anchor="end" stroke="#000" stroke-width="0.04">0.0</text>
<line x1="507.40" y1="255.30" x2="508.30" y2="255.30" stroke="#555" stroke-width="0.4" />
<text x="507.00" y="228.35" font-size="3.7" text-anchor="end" stroke="#000" stroke-width="0.04">0.5</text>
<line x1="507.40" y1="227.00" x2="508.30" y2="227.00" stroke="#555" stroke-width="0.4" />
<text x="507.00" y="200.05" font-size="3.7" text-anchor="end" stroke="#000" stroke-width="0.04">1.0</text>
<line x1="507.40" y1="198.70" x2="508.30" y2="198.70" stroke="#555" stroke-width="0.4" />
<text x="507.00" y="171.75" font-size="3.7" text-anchor="end" stroke="#000" stroke-width="0.04">1.5</text>
<line x1="507.40" y1="170.40" x2="508.30" y2="170.40" stroke="#555" stroke-width="0.4" />
<text x="500.40" y="198.80" font-size="4.32" text-anchor="middle" textLength="55.0" lengthAdjust="spacingAndGlyphs" transform="rotate(-90 500.40 198.80)" stroke="#000" stroke-width="0.04">Normalized Geometric Mean</text>
<rect x="518.20" y="200.20" width="14.60" height="55.10" fill="#4682B4" stroke="#111" stroke-width="0.45"/>
<line x1="525.50" y1="199.00" x2="525.50" y2="201.40" stroke="#000" stroke-width="0.55" />
<line x1="524.50" y1="199.00" x2="526.50" y2="199.00" stroke="#000" stroke-width="0.55" />
<line x1="524.50" y1="201.40" x2="526.50" y2="201.40" stroke="#000" stroke-width="0.55" />
<circle cx="523.84" cy="199.80" r="0.58" fill="#000"/>
<circle cx="528.62" cy="200.05" r="0.58" fill="#000"/>
<circle cx="528.82" cy="199.41" r="0.58" fill="#000"/>
<rect x="532.80" y="178.50" width="14.60" height="76.80" fill="#D3D3D3" stroke="#111" stroke-width="0.45"/>
<line x1="540.10" y1="168.50" x2="540.10" y2="188.50" stroke="#000" stroke-width="0.55" />
<line x1="539.10" y1="168.50" x2="541.10" y2="168.50" stroke="#000" stroke-width="0.55" />
<line x1="539.10" y1="188.50" x2="541.10" y2="188.50" stroke="#000" stroke-width="0.55" />
<circle cx="538.57" cy="181.50" r="0.58" fill="#000"/>
<circle cx="543.70" cy="177.52" r="0.58" fill="#000"/>
<circle cx="537.53" cy="170.92" r="0.58" fill="#000"/>
<rect x="559.20" y="179.40" width="14.70" height="75.90" fill="#4682B4" stroke="#111" stroke-width="0.45"/>
<line x1="566.55" y1="178.40" x2="566.55" y2="180.40" stroke="#000" stroke-width="0.55" />
<line x1="565.55" y1="178.40" x2="567.55" y2="178.40" stroke="#000" stroke-width="0.55" />
<line x1="565.55" y1="180.40" x2="567.55" y2="180.40" stroke="#000" stroke-width="0.55" />
<circle cx="566.83" cy="178.78" r="0.58" fill="#000"/>
<circle cx="569.44" cy="180.08" r="0.58" fill="#000"/>
<circle cx="563.57" cy="178.96" r="0.58" fill="#000"/>
<rect x="573.90" y="163.30" width="14.90" height="92.00" fill="#D3D3D3" stroke="#111" stroke-width="0.45"/>
<line x1="581.35" y1="160.30" x2="581.35" y2="166.30" stroke="#000" stroke-width="0.55" />
<line x1="580.35" y1="160.30" x2="582.35" y2="160.30" stroke="#000" stroke-width="0.55" />
<line x1="580.35" y1="166.30" x2="582.35" y2="166.30" stroke="#000" stroke-width="0.55" />
<circle cx="584.28" cy="164.15" r="0.58" fill="#000"/>
<circle cx="584.27" cy="162.37" r="0.58" fill="#000"/>
<circle cx="577.82" cy="162.05" r="0.58" fill="#000"/>
<rect x="600.30" y="183.90" width="14.60" height="71.40" fill="#4682B4" stroke="#111" stroke-width="0.45"/>
<line x1="607.60" y1="181.10" x2="607.60" y2="186.70" stroke="#000" stroke-width="0.55" />
<line x1="606.60" y1="181.10" x2="608.60" y2="181.10" stroke="#000" stroke-width="0.55" />
<line x1="606.60" y1="186.70" x2="608.60" y2="186.70" stroke="#000" stroke-width="0.55" />
<circle cx="610.35" cy="182.62" r="0.58" fill="#000"/>
<circle cx="606.16" cy="183.43" r="0.58" fill="#000"/>
<circle cx="606.85" cy="183.39" r="0.58" fill="#000"/>
<rect x="614.90" y="171.20" width="14.60" height="84.10" fill="#D3D3D3" stroke="#111" stroke-width="0.45"/>
<line x1="622.20" y1="169.20" x2="622.20" y2="173.20" stroke="#000" stroke-width="0.55" />
<line x1="621.20" y1="169.20" x2="623.20" y2="169.20" stroke="#000" stroke-width="0.55" />
<line x1="621.20" y1="173.20" x2="623.20" y2="173.20" stroke="#000" stroke-width="0.55" />
<circle cx="626.13" cy="169.82" r="0.58" fill="#000"/>
<circle cx="617.57" cy="172.97" r="0.58" fill="#000"/>
<circle cx="625.75" cy="173.15" r="0.58" fill="#000"/>
<line x1="527.20" y1="154.90" x2="606.50" y2="154.90" stroke="#111" stroke-width="0.85" />
<text x="564.30" y="156.10" font-size="5" text-anchor="middle" stroke="#000" stroke-width="0.04">*</text>
<line x1="527.20" y1="164.70" x2="567.00" y2="164.70" stroke="#444" stroke-width="1.0" />
<text x="546.00" y="164.90" font-size="5" text-anchor="middle" stroke="#000" stroke-width="0.04">*</text>
<text x="537.00" y="149.40" font-size="4.3" textLength="38.0" lengthAdjust="spacingAndGlyphs" stroke="#000" stroke-width="0.04">LMP inducing agent</text>
<rect x="577.80" y="145.60" width="4.40" height="4.60" fill="#4682B4" stroke="#1c2a3a" stroke-width="0.6"/>
<circle cx="580.00" cy="147.90" r="0.5" fill="#000"/>
<rect x="594.00" y="145.60" width="4.40" height="4.60" fill="#DADADA" stroke="#5a5a5a" stroke-width="0.6"/>
<circle cx="596.20" cy="147.90" r="0.5" fill="#000"/>
<text x="584.20" y="149.20" font-size="4.2" text-anchor="middle" stroke="#000" stroke-width="0.04">-</text>
<text x="600.80" y="149.30" font-size="4.2" text-anchor="middle" stroke="#000" stroke-width="0.04">+</text>
<line x1="532.80" y1="260.40" x2="532.80" y2="261.40" stroke="#555" stroke-width="0.4" />
<line x1="574.40" y1="260.40" x2="574.40" y2="261.40" stroke="#555" stroke-width="0.4" />
<line x1="615.00" y1="260.40" x2="615.00" y2="261.40" stroke="#555" stroke-width="0.4" />
<text x="532.80" y="265.50" font-size="4.1" text-anchor="middle" stroke="#000" stroke-width="0.04">WT</text>
<text x="574.40" y="265.50" font-size="4.1" text-anchor="middle" stroke="#000" stroke-width="0.04">FANCA-null</text>
<text x="617.00" y="265.10" font-size="4.1" text-anchor="middle" stroke="#000" stroke-width="0.04">FANCD2-null</text>
<text x="611.50" y="272.00" font-size="4.3" textLength="28.0" lengthAdjust="spacingAndGlyphs" stroke="#000" stroke-width="0.04">*P-value&lt;0.05</text>
</g>
<g id="pg">
<text x="86.20" y="293.80" font-size="11.4" text-anchor="middle" textLength="17.8" lengthAdjust="spacingAndGlyphs" font-weight="bold">WT</text>
<text x="213.30" y="293.80" font-size="11.4" text-anchor="middle" textLength="70.6" lengthAdjust="spacingAndGlyphs" font-weight="bold">FANCD2-null</text>
<line x1="24.70" y1="295.60" x2="147.80" y2="295.60" stroke="#444" stroke-width="0.8" />
<line x1="155.00" y1="295.60" x2="278.00" y2="295.60" stroke="#444" stroke-width="0.8" />
<text x="53.40" y="304.60" font-size="8.2" text-anchor="middle" textLength="31.0" lengthAdjust="spacingAndGlyphs" stroke="#000" stroke-width="0.08">NTC-KD</text>
<text x="118.30" y="304.00" font-size="8.2" text-anchor="middle" textLength="45.3" lengthAdjust="spacingAndGlyphs" stroke="#000" stroke-width="0.08">SNAP23-KD</text>
<text x="182.50" y="304.00" font-size="8.2" text-anchor="middle" textLength="30.6" lengthAdjust="spacingAndGlyphs" stroke="#000" stroke-width="0.08">NTC-KD</text>
<text x="247.20" y="304.60" font-size="8.2" text-anchor="middle" textLength="45.2" lengthAdjust="spacingAndGlyphs" stroke="#000" stroke-width="0.08">SNAP23-KD</text>
<text x="20.00" y="334.60" font-size="8.2" text-anchor="middle" transform="rotate(-90 20.00 334.60)" stroke="#000" stroke-width="0.08">DAPI</text>
<text x="20.00" y="397.80" font-size="8.2" text-anchor="middle" transform="rotate(-90 20.00 397.80)" stroke="#000" stroke-width="0.08">LAMP1</text>
<text x="20.00" y="466.00" font-size="8.2" text-anchor="middle" transform="rotate(-90 20.00 466.00)" stroke="#000" stroke-width="0.08">Merge</text>
<clipPath id="cp00"><rect x="24.3" y="306.3" width="57.60" height="59.50"/></clipPath>
<rect x="24.3" y="306.3" width="57.60" height="59.50" fill="#000"/>
<clipPath id="cp01"><rect x="24.3" y="373.0" width="57.60" height="58.00"/></clipPath>
<rect x="24.3" y="373.0" width="57.60" height="58.00" fill="#000"/>
<clipPath id="cp02"><rect x="24.3" y="439.2" width="57.60" height="57.80"/></clipPath>
<rect x="24.3" y="439.2" width="57.60" height="57.80" fill="#000"/>
<clipPath id="cp10"><rect x="88.6" y="306.3" width="59.20" height="59.50"/></clipPath>
<rect x="88.6" y="306.3" width="59.20" height="59.50" fill="#000"/>
<clipPath id="cp11"><rect x="88.6" y="373.0" width="59.20" height="58.00"/></clipPath>
<rect x="88.6" y="373.0" width="59.20" height="58.00" fill="#000"/>
<clipPath id="cp12"><rect x="88.6" y="439.2" width="59.20" height="57.80"/></clipPath>
<rect x="88.6" y="439.2" width="59.20" height="57.80" fill="#000"/>
<clipPath id="cp20"><rect x="153.3" y="306.3" width="58.20" height="59.50"/></clipPath>
<rect x="153.3" y="306.3" width="58.20" height="59.50" fill="#000"/>
<clipPath id="cp21"><rect x="153.3" y="373.0" width="58.20" height="58.00"/></clipPath>
<rect x="153.3" y="373.0" width="58.20" height="58.00" fill="#000"/>
<clipPath id="cp22"><rect x="153.3" y="439.2" width="58.20" height="57.80"/></clipPath>
<rect x="153.3" y="439.2" width="58.20" height="57.80" fill="#000"/>
<clipPath id="cp30"><rect x="217.1" y="306.3" width="60.30" height="59.50"/></clipPath>
<rect x="217.1" y="306.3" width="60.30" height="59.50" fill="#000"/>
<clipPath id="cp31"><rect x="217.1" y="373.0" width="60.30" height="58.00"/></clipPath>
<rect x="217.1" y="373.0" width="60.30" height="58.00" fill="#000"/>
<clipPath id="cp32"><rect x="217.1" y="439.2" width="60.30" height="57.80"/></clipPath>
<rect x="217.1" y="439.2" width="60.30" height="57.80" fill="#000"/>
<g clip-path="url(#cp00)"><g transform="translate(24.30 306.30)" filter="url(#b1)">
<ellipse cx="16.6" cy="17.2" rx="5.4" ry="5.6" fill="#5a16c0" transform="rotate(0 16.6 17.2)"/>
<ellipse cx="45.9" cy="41.7" rx="4.0" ry="6.6" fill="#7a22ff" transform="rotate(5 45.9 41.7)"/>
</g></g>
<g clip-path="url(#cp01)"><g transform="translate(24.30 373.00)">
<g filter="url(#b2)" opacity="0.5">
<path d="M2.5,19.5 L7,16.5 C7,9 12,4.5 18,5.5 C24.5,6.5 27.5,12 26.5,19 C26,24.5 23.5,28.5 19,27.5 C13,26.5 9.5,24 7.5,20.5 Z" fill="#3f7a0c"/>
<path d="M40,17 L47,14 L53,11.5 L49.5,19 L47.5,30 L49.5,41 L55,53.5 L47,51.5 L38.5,54 L42,44 L44.5,32 L43,22 Z" fill="#3f7a0c"/>
</g>
<g filter="url(#sp)" opacity="0.95">
<path d="M2.5,19.5 L7,16.5 C7,9 12,4.5 18,5.5 C24.5,6.5 27.5,12 26.5,19 C26,24.5 23.5,28.5 19,27.5 C13,26.5 9.5,24 7.5,20.5 Z" fill="#78c818"/>
<path d="M40,17 L47,14 L53,11.5 L49.5,19 L47.5,30 L49.5,41 L55,53.5 L47,51.5 L38.5,54 L42,44 L44.5,32 L43,22 Z" fill="#78c818"/>
</g>
<g filter="url(#b1)" opacity="0.55">
<ellipse cx="20.5" cy="21.5" rx="4.0" ry="2.6" fill="#a6ea30"/>
<ellipse cx="12.5" cy="13" rx="2.2" ry="3.2" fill="#a6ea30"/>
<ellipse cx="46.5" cy="30" rx="1.6" ry="6.5" fill="#a6ea30"/>
</g>
<ellipse cx="16.3" cy="17.3" rx="4.3" ry="4.5" fill="#000" opacity="0.7" filter="url(#b1)"/>
</g></g>
<g clip-path="url(#cp02)"><g transform="translate(24.30 439.20)">
<g filter="url(#b2)" opacity="0.5">
<path d="M2.5,19.5 L7,16.5 C7,9 12,4.5 18,5.5 C24.5,6.5 27.5,12 26.5,19 C26,24.5 23.5,28.5 19,27.5 C13,26.5 9.5,24 7.5,20.5 Z" fill="#3f7a0c"/>
<path d="M40,17 L47,14 L53,11.5 L49.5,19 L47.5,30 L49.5,41 L55,53.5 L47,51.5 L38.5,54 L42,44 L44.5,32 L43,22 Z" fill="#3f7a0c"/>
</g>
<g filter="url(#sp)" opacity="0.95">
<path d="M2.5,19.5 L7,16.5 C7,9 12,4.5 18,5.5 C24.5,6.5 27.5,12 26.5,19 C26,24.5 23.5,28.5 19,27.5 C13,26.5 9.5,24 7.5,20.5 Z" fill="#78c818"/>
<path d="M40,17 L47,14 L53,11.5 L49.5,19 L47.5,30 L49.5,41 L55,53.5 L47,51.5 L38.5,54 L42,44 L44.5,32 L43,22 Z" fill="#78c818"/>
</g>
<g filter="url(#b1)" opacity="0.55">
<ellipse cx="20.5" cy="21.5" rx="4.0" ry="2.6" fill="#a6ea30"/>
<ellipse cx="12.5" cy="13" rx="2.2" ry="3.2" fill="#a6ea30"/>
<ellipse cx="46.5" cy="30" rx="1.6" ry="6.5" fill="#a6ea30"/>
</g>
<ellipse cx="16.3" cy="17.3" rx="4.3" ry="4.5" fill="#000" opacity="0.7" filter="url(#b1)"/>
</g></g>
<g clip-path="url(#cp02)"><g transform="translate(24.30 439.20)" filter="url(#b1)">
<ellipse cx="16.6" cy="17.2" rx="5.4" ry="5.6" fill="#7a2cd0" transform="rotate(0 16.6 17.2)"/>
<ellipse cx="45.9" cy="41.7" rx="4.0" ry="6.6" fill="#9a3cf0" transform="rotate(5 45.9 41.7)"/>
</g></g>
<g clip-path="url(#cp10)"><g transform="translate(88.60 306.30)" filter="url(#b1)">
<ellipse cx="32.4" cy="31.8" rx="5.6" ry="3.9" fill="#7a22ff" transform="rotate(-35 32.4 31.8)"/>
</g></g>
<g clip-path="url(#cp11)"><g transform="translate(88.60 373.00)">
<g filter="url(#b2)" opacity="0.5">
<path d="M45.5,17.5 L41,26 L37,34 L34.5,41 L35.5,48.5 L31.5,41 L23,42 L14.5,45.5 L21,39 L29,33 L37,25 Z" fill="#3f7a0c"/>
</g>
<g filter="url(#sp)" opacity="0.95">
<path d="M45.5,17.5 L41,26 L37,34 L34.5,41 L35.5,48.5 L31.5,41 L23,42 L14.5,45.5 L21,39 L29,33 L37,25 Z" fill="#78c818"/>
</g>
<g filter="url(#b1)" opacity="0.55">
<ellipse cx="32" cy="32.5" rx="4.0" ry="2.4" fill="#a6ea30"/>
</g>
</g></g>
<g clip-path="url(#cp12)"><g transform="translate(88.60 439.20)">
<g filter="url(#b2)" opacity="0.5">
<path d="M45.5,17.5 L41,26 L37,34 L34.5,41 L35.5,48.5 L31.5,41 L23,42 L14.5,45.5 L21,39 L29,33 L37,25 Z" fill="#3f7a0c"/>
</g>
<g filter="url(#sp)" opacity="0.95">
<path d="M45.5,17.5 L41,26 L37,34 L34.5,41 L35.5,48.5 L31.5,41 L23,42 L14.5,45.5 L21,39 L29,33 L37,25 Z" fill="#78c818"/>
</g>
<g filter="url(#b1)" opacity="0.55">
<ellipse cx="32" cy="32.5" rx="4.0" ry="2.4" fill="#a6ea30"/>
</g>
</g></g>
<g clip-path="url(#cp12)"><g transform="translate(88.60 439.20)" filter="url(#b1)">
<ellipse cx="32.4" cy="31.8" rx="5.6" ry="3.9" fill="#9a3cf0" transform="rotate(-35 32.4 31.8)"/>
</g></g>
<g clip-path="url(#cp20)"><g transform="translate(153.30 306.30)" filter="url(#b1)">
<ellipse cx="12.5" cy="35.2" rx="3.6" ry="6.6" fill="#6a1ce0" transform="rotate(-8 12.5 35.2)"/>
<ellipse cx="41.5" cy="22.0" rx="4.3" ry="7.2" fill="#7a22ff" transform="rotate(25 41.5 22.0)"/>
</g></g>
<g clip-path="url(#cp21)"><g transform="translate(153.30 373.00)">
<g filter="url(#b2)" opacity="0.5">
<path d="M11,19.0 C14,25 17.0,33 16.8,40 C16.5,46 15.2,51 14,54.5 C10.5,50 7.2,45 6.9,38 C6.8,30 8.6,24 11,19.0 Z" fill="#3f7a0c"/>
<path d="M50.8,0.5 L56.5,5 C54,11 50,16.5 46.6,19.0 C43,25 37,33 31,38 C32.5,31 35.5,22 39.8,14.8 C43,9 47,4 50.8,0.5 Z" fill="#3f7a0c"/>
</g>
<g filter="url(#sm)" opacity="0.7">
<path d="M11,19.0 C14,25 17.0,33 16.8,40 C16.5,46 15.2,51 14,54.5 C10.5,50 7.2,45 6.9,38 C6.8,30 8.6,24 11,19.0 Z" fill="#78c818"/>
<path d="M50.8,0.5 L56.5,5 C54,11 50,16.5 46.6,19.0 C43,25 37,33 31,38 C32.5,31 35.5,22 39.8,14.8 C43,9 47,4 50.8,0.5 Z" fill="#78c818"/>
</g>
<g filter="url(#b1)" opacity="0.8">
<ellipse cx="12" cy="39" rx="3.0" ry="4.0" fill="#a6ea30"/>
<ellipse cx="46" cy="15" rx="2.0" ry="6.5" fill="#a6ea30"/>
</g>
</g></g>
<g clip-path="url(#cp22)"><g transform="translate(153.30 439.20)">
<g filter="url(#b2)" opacity="0.5">
<path d="M11,19.0 C14,25 17.0,33 16.8,40 C16.5,46 15.2,51 14,54.5 C10.5,50 7.2,45 6.9,38 C6.8,30 8.6,24 11,19.0 Z" fill="#3f7a0c"/>
<path d="M50.8,0.5 L56.5,5 C54,11 50,16.5 46.6,19.0 C43,25 37,33 31,38 C32.5,31 35.5,22 39.8,14.8 C43,9 47,4 50.8,0.5 Z" fill="#3f7a0c"/>
</g>
<g filter="url(#sm)" opacity="0.7">
<path d="M11,19.0 C14,25 17.0,33 16.8,40 C16.5,46 15.2,51 14,54.5 C10.5,50 7.2,45 6.9,38 C6.8,30 8.6,24 11,19.0 Z" fill="#78c818"/>
<path d="M50.8,0.5 L56.5,5 C54,11 50,16.5 46.6,19.0 C43,25 37,33 31,38 C32.5,31 35.5,22 39.8,14.8 C43,9 47,4 50.8,0.5 Z" fill="#78c818"/>
</g>
<g filter="url(#b1)" opacity="0.8">
<ellipse cx="12" cy="39" rx="3.0" ry="4.0" fill="#a6ea30"/>
<ellipse cx="46" cy="15" rx="2.0" ry="6.5" fill="#a6ea30"/>
</g>
</g></g>
<g clip-path="url(#cp22)"><g transform="translate(153.30 439.20)" filter="url(#b1)">
<ellipse cx="12.5" cy="35.2" rx="3.6" ry="6.6" fill="#8a34e6" transform="rotate(-8 12.5 35.2)"/>
<ellipse cx="41.5" cy="22.0" rx="4.3" ry="7.2" fill="#9a3cf0" transform="rotate(25 41.5 22.0)"/>
</g></g>
<g clip-path="url(#cp30)"><g transform="translate(217.10 306.30)" filter="url(#b1)">
<ellipse cx="28.9" cy="10.3" rx="3.5" ry="6.4" fill="#6a1ce0" transform="rotate(30 28.9 10.3)"/>
<ellipse cx="45.5" cy="34.6" rx="3.3" ry="7.6" fill="#7a22ff" transform="rotate(3 45.5 34.6)"/>
</g></g>
<g clip-path="url(#cp31)"><g transform="translate(217.10 373.00)">
<g filter="url(#b2)" opacity="0.5">
<path d="M29.7,-0.5 L37.5,1.2 C36.5,5 35,8 32.6,10.0 C29.5,15 24,22 18.3,27.5 C20,21.5 23,13 26.8,6.8 C27.5,4 28.5,1.5 29.7,-0.5 Z" fill="#3f7a0c"/>
<path d="M47.7,1.7 C48.5,10 49.2,19 49.1,26 C48.8,36 47.0,45 45,52 C44.1,45 43.2,36 43.2,28 C43.4,19 45.9,10 47.7,1.7 Z" fill="#3f7a0c"/>
</g>
<g filter="url(#sm)" opacity="0.7">
<path d="M29.7,-0.5 L37.5,1.2 C36.5,5 35,8 32.6,10.0 C29.5,15 24,22 18.3,27.5 C20,21.5 23,13 26.8,6.8 C27.5,4 28.5,1.5 29.7,-0.5 Z" fill="#78c818"/>
<path d="M47.7,1.7 C48.5,10 49.2,19 49.1,26 C48.8,36 47.0,45 45,52 C44.1,45 43.2,36 43.2,28 C43.4,19 45.9,10 47.7,1.7 Z" fill="#78c818"/>
</g>
<g filter="url(#b1)" opacity="0.8">
<ellipse cx="30.5" cy="6" rx="2.6" ry="4.2" fill="#a6ea30"/>
<ellipse cx="46.3" cy="23.5" rx="2.2" ry="3.2" fill="#a6ea30"/>
</g>
</g></g>
<g clip-path="url(#cp32)"><g transform="translate(217.10 439.20)">
<g filter="url(#b2)" opacity="0.5">
<path d="M29.7,-0.5 L37.5,1.2 C36.5,5 35,8 32.6,10.0 C29.5,15 24,22 18.3,27.5 C20,21.5 23,13 26.8,6.8 C27.5,4 28.5,1.5 29.7,-0.5 Z" fill="#3f7a0c"/>
<path d="M47.7,1.7 C48.5,10 49.2,19 49.1,26 C48.8,36 47.0,45 45,52 C44.1,45 43.2,36 43.2,28 C43.4,19 45.9,10 47.7,1.7 Z" fill="#3f7a0c"/>
</g>
<g filter="url(#sm)" opacity="0.7">
<path d="M29.7,-0.5 L37.5,1.2 C36.5,5 35,8 32.6,10.0 C29.5,15 24,22 18.3,27.5 C20,21.5 23,13 26.8,6.8 C27.5,4 28.5,1.5 29.7,-0.5 Z" fill="#78c818"/>
<path d="M47.7,1.7 C48.5,10 49.2,19 49.1,26 C48.8,36 47.0,45 45,52 C44.1,45 43.2,36 43.2,28 C43.4,19 45.9,10 47.7,1.7 Z" fill="#78c818"/>
</g>
<g filter="url(#b1)" opacity="0.8">
<ellipse cx="30.5" cy="6" rx="2.6" ry="4.2" fill="#a6ea30"/>
<ellipse cx="46.3" cy="23.5" rx="2.2" ry="3.2" fill="#a6ea30"/>
</g>
</g></g>
<g clip-path="url(#cp32)"><g transform="translate(217.10 439.20)" filter="url(#b1)">
<ellipse cx="28.9" cy="10.3" rx="3.5" ry="6.4" fill="#8a34e6" transform="rotate(30 28.9 10.3)"/>
<ellipse cx="45.5" cy="34.6" rx="3.3" ry="7.6" fill="#9a3cf0" transform="rotate(3 45.5 34.6)"/>
</g></g>
</g>
<g id="ph">
<rect x="319.0" y="326.8" width="149.4" height="120.0" fill="#fff" stroke="#8c8c8c" stroke-width="0.7"/>
<line x1="316.20" y1="442.20" x2="319.00" y2="442.20" stroke="#555" stroke-width="0.5" />
<text x="312.60" y="442.20" font-size="4.5" text-anchor="middle" transform="rotate(-90 312.60 442.20)" stroke="#000" stroke-width="0.12">0</text>
<line x1="316.20" y1="416.40" x2="319.00" y2="416.40" stroke="#555" stroke-width="0.5" />
<text x="312.60" y="416.40" font-size="4.5" text-anchor="middle" transform="rotate(-90 312.60 416.40)" stroke="#000" stroke-width="0.12">50</text>
<line x1="316.20" y1="390.40" x2="319.00" y2="390.40" stroke="#555" stroke-width="0.5" />
<text x="312.60" y="390.40" font-size="4.5" text-anchor="middle" transform="rotate(-90 312.60 390.40)" stroke="#000" stroke-width="0.12">100</text>
<line x1="316.20" y1="364.40" x2="319.00" y2="364.40" stroke="#555" stroke-width="0.5" />
<text x="312.60" y="364.40" font-size="4.5" text-anchor="middle" transform="rotate(-90 312.60 364.40)" stroke="#000" stroke-width="0.12">150</text>
<line x1="316.20" y1="338.40" x2="319.00" y2="338.40" stroke="#555" stroke-width="0.5" />
<text x="312.60" y="338.40" font-size="4.5" text-anchor="middle" transform="rotate(-90 312.60 338.40)" stroke="#000" stroke-width="0.12">200</text>
<text x="304.00" y="384.40" font-size="5.85" text-anchor="middle" textLength="27.0" lengthAdjust="spacingAndGlyphs" transform="rotate(-90 304.00 384.40)" stroke="#000" stroke-width="0.12">Foci count</text>
<line x1="341.65" y1="347.20" x2="341.65" y2="382.30" stroke="#222" stroke-width="0.6" stroke-dasharray="1.2 0.9"/>
<line x1="341.65" y1="408.30" x2="341.65" y2="434.00" stroke="#222" stroke-width="0.6" stroke-dasharray="1.2 0.9"/>
<line x1="334.45" y1="347.20" x2="348.85" y2="347.20" stroke="#333" stroke-width="0.55" />
<line x1="334.45" y1="434.00" x2="348.85" y2="434.00" stroke="#333" stroke-width="0.55" />
<rect x="327.60" y="382.30" width="28.10" height="26.00" fill="#D3D3D3" stroke="#4a4a4a" stroke-width="0.6"/>
<line x1="327.60" y1="397.00" x2="355.70" y2="397.00" stroke="#222" stroke-width="1.2" />
<circle cx="341.65" cy="331.50" r="1.15" fill="none" stroke="#333" stroke-width="0.45"/>
<circle cx="341.65" cy="339.00" r="1.15" fill="none" stroke="#333" stroke-width="0.45"/>
<line x1="376.45" y1="373.30" x2="376.45" y2="396.50" stroke="#222" stroke-width="0.6" stroke-dasharray="1.2 0.9"/>
<line x1="376.45" y1="417.50" x2="376.45" y2="438.50" stroke="#222" stroke-width="0.6" stroke-dasharray="1.2 0.9"/>
<line x1="369.25" y1="373.30" x2="383.65" y2="373.30" stroke="#333" stroke-width="0.55" />
<line x1="369.25" y1="438.50" x2="383.65" y2="438.50" stroke="#333" stroke-width="0.55" />
<rect x="362.30" y="396.50" width="28.30" height="21.00" fill="#D3D3D3" stroke="#4a4a4a" stroke-width="0.6"/>
<line x1="362.30" y1="406.20" x2="390.60" y2="406.20" stroke="#222" stroke-width="1.2" />
<circle cx="376.45" cy="360.20" r="1.15" fill="none" stroke="#333" stroke-width="0.45"/>
<circle cx="376.45" cy="362.60" r="1.15" fill="none" stroke="#333" stroke-width="0.45"/>
<line x1="410.90" y1="393.00" x2="410.90" y2="410.10" stroke="#222" stroke-width="0.6" stroke-dasharray="1.2 0.9"/>
<line x1="410.90" y1="423.50" x2="410.90" y2="440.30" stroke="#222" stroke-width="0.6" stroke-dasharray="1.2 0.9"/>
<line x1="403.70" y1="393.00" x2="418.10" y2="393.00" stroke="#333" stroke-width="0.55" />
<line x1="403.70" y1="440.30" x2="418.10" y2="440.30" stroke="#333" stroke-width="0.55" />
<rect x="397.00" y="410.10" width="27.80" height="13.40" fill="#D3D3D3" stroke="#4a4a4a" stroke-width="0.6"/>
<line x1="397.00" y1="417.70" x2="424.80" y2="417.70" stroke="#222" stroke-width="1.2" />
<circle cx="410.90" cy="387.50" r="1.15" fill="none" stroke="#333" stroke-width="0.45"/>
<line x1="445.55" y1="404.30" x2="445.55" y2="416.40" stroke="#222" stroke-width="0.6" stroke-dasharray="1.2 0.9"/>
<line x1="445.55" y1="428.80" x2="445.55" y2="441.60" stroke="#222" stroke-width="0.6" stroke-dasharray="1.2 0.9"/>
<line x1="438.35" y1="404.30" x2="452.75" y2="404.30" stroke="#333" stroke-width="0.55" />
<line x1="438.35" y1="441.60" x2="452.75" y2="441.60" stroke="#333" stroke-width="0.55" />
<rect x="431.40" y="416.40" width="28.30" height="12.40" fill="#D3D3D3" stroke="#4a4a4a" stroke-width="0.6"/>
<line x1="431.40" y1="424.00" x2="459.70" y2="424.00" stroke="#222" stroke-width="1.2" />
<line x1="347.80" y1="333.40" x2="449.00" y2="333.40" stroke="#3a3a3a" stroke-width="1.25" />
<text x="399.00" y="333.40" font-size="5.8" text-anchor="middle" stroke="#000" stroke-width="0.3">**</text>
<line x1="347.80" y1="343.10" x2="416.70" y2="343.10" stroke="#3a3a3a" stroke-width="1.25" />
<text x="382.80" y="343.20" font-size="5.8" text-anchor="middle" stroke="#000" stroke-width="0.3">**</text>
<line x1="376.20" y1="354.40" x2="445.30" y2="354.40" stroke="#222" stroke-width="1.0" />
<text x="409.80" y="354.30" font-size="5.8" text-anchor="middle" stroke="#000" stroke-width="0.3">*</text>
<line x1="410.10" y1="373.10" x2="444.80" y2="373.10" stroke="#3a3a3a" stroke-width="1.25" />
<text x="426.40" y="373.00" font-size="5.8" text-anchor="middle" stroke="#000" stroke-width="0.3">*</text>
<line x1="341.60" y1="446.80" x2="341.60" y2="449.70" stroke="#555" stroke-width="0.5" />
<text x="341.60" y="457.10" font-size="4.9" text-anchor="middle" stroke="#000" stroke-width="0.12">WT</text>
<text x="341.60" y="462.60" font-size="4.9" text-anchor="middle" stroke="#000" stroke-width="0.12">NTC-KD</text>
<text x="341.60" y="467.20" font-size="4.9" text-anchor="middle" stroke="#000" stroke-width="0.12">N=98</text>
<line x1="376.50" y1="446.80" x2="376.50" y2="449.70" stroke="#555" stroke-width="0.5" />
<text x="376.50" y="457.10" font-size="4.9" text-anchor="middle" stroke="#000" stroke-width="0.12">WT</text>
<text x="376.50" y="462.60" font-size="4.9" text-anchor="middle" stroke="#000" stroke-width="0.12">SNAP23-KD</text>
<text x="376.50" y="467.20" font-size="4.9" text-anchor="middle" stroke="#000" stroke-width="0.12">N=69</text>
<line x1="410.90" y1="446.80" x2="410.90" y2="449.70" stroke="#555" stroke-width="0.5" />
<text x="410.90" y="457.10" font-size="4.9" text-anchor="middle" stroke="#000" stroke-width="0.12">FANCD2-null</text>
<text x="410.90" y="462.60" font-size="4.9" text-anchor="middle" stroke="#000" stroke-width="0.12">NTC-KD</text>
<text x="410.90" y="467.20" font-size="4.9" text-anchor="middle" stroke="#000" stroke-width="0.12">N=69</text>
<line x1="445.60" y1="446.80" x2="445.60" y2="449.70" stroke="#555" stroke-width="0.5" />
<text x="445.60" y="457.10" font-size="4.9" text-anchor="middle" stroke="#000" stroke-width="0.12">FANCD2-null</text>
<text x="445.60" y="462.60" font-size="4.9" text-anchor="middle" stroke="#000" stroke-width="0.12">SNAP23-KD</text>
<text x="445.60" y="467.20" font-size="4.9" text-anchor="middle" stroke="#000" stroke-width="0.12">N=68</text>
<text x="430.60" y="475.80" font-size="5.83" textLength="44.9" lengthAdjust="spacingAndGlyphs" stroke="#000" stroke-width="0.12">* P-value &lt; 0.005</text>
<text x="426.00" y="482.30" font-size="5.98" textLength="48.7" lengthAdjust="spacingAndGlyphs" stroke="#000" stroke-width="0.12">** P-value &lt; 5 e -3</text>
<rect x="513.0" y="327.9" width="155.0" height="119.3" fill="#fff" stroke="#8c8c8c" stroke-width="0.7"/>
<line x1="510.20" y1="446.60" x2="513.00" y2="446.60" stroke="#555" stroke-width="0.5" />
<text x="505.50" y="446.60" font-size="4.4" text-anchor="middle" transform="rotate(-90 505.50 446.60)" stroke="#000" stroke-width="0.12">1000</text>
<line x1="510.20" y1="423.30" x2="513.00" y2="423.30" stroke="#555" stroke-width="0.5" />
<text x="505.50" y="423.30" font-size="4.4" text-anchor="middle" transform="rotate(-90 505.50 423.30)" stroke="#000" stroke-width="0.12">2000</text>
<line x1="510.20" y1="400.00" x2="513.00" y2="400.00" stroke="#555" stroke-width="0.5" />
<text x="505.50" y="400.00" font-size="4.4" text-anchor="middle" transform="rotate(-90 505.50 400.00)" stroke="#000" stroke-width="0.12">3000</text>
<line x1="510.20" y1="376.60" x2="513.00" y2="376.60" stroke="#555" stroke-width="0.5" />
<text x="505.50" y="376.60" font-size="4.4" text-anchor="middle" transform="rotate(-90 505.50 376.60)" stroke="#000" stroke-width="0.12">4000</text>
<line x1="510.20" y1="353.20" x2="513.00" y2="353.20" stroke="#555" stroke-width="0.5" />
<text x="505.50" y="353.20" font-size="4.4" text-anchor="middle" transform="rotate(-90 505.50 353.20)" stroke="#000" stroke-width="0.12">5000</text>
<line x1="510.20" y1="329.90" x2="513.00" y2="329.90" stroke="#555" stroke-width="0.5" />
<text x="505.50" y="329.90" font-size="4.4" text-anchor="middle" transform="rotate(-90 505.50 329.90)" stroke="#000" stroke-width="0.12">6000</text>
<text x="495.80" y="386.70" font-size="5.4" text-anchor="middle" textLength="101.5" lengthAdjust="spacingAndGlyphs" transform="rotate(-90 495.80 386.70)" stroke="#000" stroke-width="0.12">Mean Foci Fluorescence Intensity Per Cell</text>
<line x1="537.30" y1="343.40" x2="537.30" y2="366.40" stroke="#222" stroke-width="0.6" stroke-dasharray="1.2 0.9"/>
<line x1="537.30" y1="383.50" x2="537.30" y2="407.40" stroke="#222" stroke-width="0.6" stroke-dasharray="1.2 0.9"/>
<line x1="530.10" y1="343.40" x2="544.50" y2="343.40" stroke="#333" stroke-width="0.55" />
<line x1="530.10" y1="407.40" x2="544.50" y2="407.40" stroke="#333" stroke-width="0.55" />
<rect x="522.80" y="366.40" width="29.00" height="17.10" fill="#D3D3D3" stroke="#4a4a4a" stroke-width="0.6"/>
<line x1="522.80" y1="377.50" x2="551.80" y2="377.50" stroke="#222" stroke-width="1.2" />
<circle cx="537.30" cy="331.70" r="1.15" fill="none" stroke="#333" stroke-width="0.45"/>
<circle cx="537.30" cy="414.60" r="1.15" fill="none" stroke="#333" stroke-width="0.45"/>
<line x1="572.95" y1="355.30" x2="572.95" y2="381.70" stroke="#222" stroke-width="0.6" stroke-dasharray="1.2 0.9"/>
<line x1="572.95" y1="403.20" x2="572.95" y2="419.40" stroke="#222" stroke-width="0.6" stroke-dasharray="1.2 0.9"/>
<line x1="565.75" y1="355.30" x2="580.15" y2="355.30" stroke="#333" stroke-width="0.55" />
<line x1="565.75" y1="419.40" x2="580.15" y2="419.40" stroke="#333" stroke-width="0.55" />
<rect x="558.40" y="381.70" width="29.10" height="21.50" fill="#D3D3D3" stroke="#4a4a4a" stroke-width="0.6"/>
<line x1="558.40" y1="391.00" x2="587.50" y2="391.00" stroke="#222" stroke-width="1.2" />
<line x1="608.70" y1="422.40" x2="608.70" y2="430.00" stroke="#222" stroke-width="0.6" stroke-dasharray="1.2 0.9"/>
<line x1="608.70" y1="436.80" x2="608.70" y2="443.40" stroke="#222" stroke-width="0.6" stroke-dasharray="1.2 0.9"/>
<line x1="601.50" y1="422.40" x2="615.90" y2="422.40" stroke="#333" stroke-width="0.55" />
<line x1="601.50" y1="443.40" x2="615.90" y2="443.40" stroke="#333" stroke-width="0.55" />
<rect x="594.60" y="430.00" width="28.20" height="6.80" fill="#D3D3D3" stroke="#4a4a4a" stroke-width="0.6"/>
<line x1="594.60" y1="434.60" x2="622.80" y2="434.60" stroke="#222" stroke-width="1.2" />
<line x1="644.50" y1="366.40" x2="644.50" y2="394.20" stroke="#222" stroke-width="0.6" stroke-dasharray="1.2 0.9"/>
<line x1="644.50" y1="419.00" x2="644.50" y2="425.20" stroke="#222" stroke-width="0.6" stroke-dasharray="1.2 0.9"/>
<line x1="637.30" y1="366.40" x2="651.70" y2="366.40" stroke="#333" stroke-width="0.55" />
<line x1="637.30" y1="425.20" x2="651.70" y2="425.20" stroke="#333" stroke-width="0.55" />
<rect x="630.30" y="394.20" width="28.40" height="24.80" fill="#D3D3D3" stroke="#4a4a4a" stroke-width="0.6"/>
<line x1="630.30" y1="409.30" x2="658.70" y2="409.30" stroke="#222" stroke-width="1.2" />
<circle cx="644.50" cy="352.60" r="1.15" fill="none" stroke="#333" stroke-width="0.45"/>
<line x1="537.00" y1="303.45" x2="574.00" y2="303.45" stroke="#1a1a1a" stroke-width="1.1" />
<text x="556.30" y="303.70" font-size="4.4" text-anchor="middle" stroke="#000" stroke-width="0.12">**</text>
<line x1="537.00" y1="312.10" x2="609.30" y2="312.10" stroke="#686868" stroke-width="1.6" />
<text x="571.30" y="312.00" font-size="4.4" text-anchor="middle" stroke="#000" stroke-width="0.12">*****</text>
<line x1="537.00" y1="320.50" x2="645.20" y2="320.50" stroke="#1a1a1a" stroke-width="1.1" />
<text x="589.50" y="320.70" font-size="4.4" text-anchor="middle" stroke="#000" stroke-width="0.12">***</text>
<line x1="574.00" y1="333.80" x2="644.00" y2="333.80" stroke="#3a3a3a" stroke-width="1.2" />
<text x="606.30" y="333.60" font-size="4.4" text-anchor="middle" stroke="#000" stroke-width="0.12">*</text>
<line x1="574.00" y1="342.00" x2="610.20" y2="342.00" stroke="#686868" stroke-width="1.6" />
<text x="592.20" y="342.00" font-size="4.4" text-anchor="middle" stroke="#000" stroke-width="0.12">*****</text>
<line x1="608.10" y1="349.00" x2="644.00" y2="349.00" stroke="#1a1a1a" stroke-width="1.1" />
<text x="627.30" y="349.10" font-size="4.4" text-anchor="middle" stroke="#000" stroke-width="0.12">****</text>
<line x1="537.30" y1="447.20" x2="537.30" y2="450.00" stroke="#555" stroke-width="0.5" />
<text x="537.80" y="457.10" font-size="4.7" text-anchor="middle" stroke="#000" stroke-width="0.12">WT</text>
<text x="537.80" y="462.50" font-size="4.7" text-anchor="middle" stroke="#000" stroke-width="0.12">NTC-KD</text>
<text x="537.80" y="467.00" font-size="4.7" text-anchor="middle" stroke="#000" stroke-width="0.12">N=98</text>
<line x1="572.80" y1="447.20" x2="572.80" y2="450.00" stroke="#555" stroke-width="0.5" />
<text x="572.80" y="457.10" font-size="4.7" text-anchor="middle" stroke="#000" stroke-width="0.12">WT</text>
<text x="572.80" y="462.50" font-size="4.7" text-anchor="middle" stroke="#000" stroke-width="0.12">SNAP23-KD</text>
<text x="572.80" y="467.00" font-size="4.7" text-anchor="middle" stroke="#000" stroke-width="0.12">N=69</text>
<line x1="608.70" y1="447.20" x2="608.70" y2="450.00" stroke="#555" stroke-width="0.5" />
<text x="608.70" y="457.10" font-size="4.7" text-anchor="middle" stroke="#000" stroke-width="0.12">FANCD2-null</text>
<text x="608.70" y="462.50" font-size="4.7" text-anchor="middle" stroke="#000" stroke-width="0.12">NTC-KD</text>
<text x="608.70" y="467.00" font-size="4.7" text-anchor="middle" stroke="#000" stroke-width="0.12">N=69</text>
<line x1="644.40" y1="447.20" x2="644.40" y2="450.00" stroke="#555" stroke-width="0.5" />
<text x="648.20" y="457.10" font-size="4.7" text-anchor="middle" stroke="#000" stroke-width="0.12">FANCD2-null</text>
<text x="648.20" y="462.50" font-size="4.7" text-anchor="middle" stroke="#000" stroke-width="0.12">SNAP23-KD</text>
<text x="648.20" y="467.00" font-size="4.7" text-anchor="middle" stroke="#000" stroke-width="0.12">N=68</text>
<text x="589.20" y="476.20" font-size="4.93" textLength="36.6" lengthAdjust="spacingAndGlyphs" stroke="#000" stroke-width="0.12">* P-value &lt;0.006</text>
<text x="587.80" y="481.70" font-size="4.9" textLength="45.4" lengthAdjust="spacingAndGlyphs" stroke="#000" stroke-width="0.12">**P-value &lt;3.825 e-5</text>
<text x="584.20" y="487.10" font-size="4.93" textLength="44.8" lengthAdjust="spacingAndGlyphs" stroke="#000" stroke-width="0.12">*** P-value &lt;5.55e-6</text>
<text x="637.00" y="478.70" font-size="5.0" textLength="48.5" lengthAdjust="spacingAndGlyphs" stroke="#000" stroke-width="0.12">**** P-value &lt;7.58e-9</text>
<text x="637.00" y="485.00" font-size="5.0" textLength="51.0" lengthAdjust="spacingAndGlyphs" stroke="#000" stroke-width="0.12">***** P-value &lt;2.2e-16</text>
</g>
</svg></body></html>
